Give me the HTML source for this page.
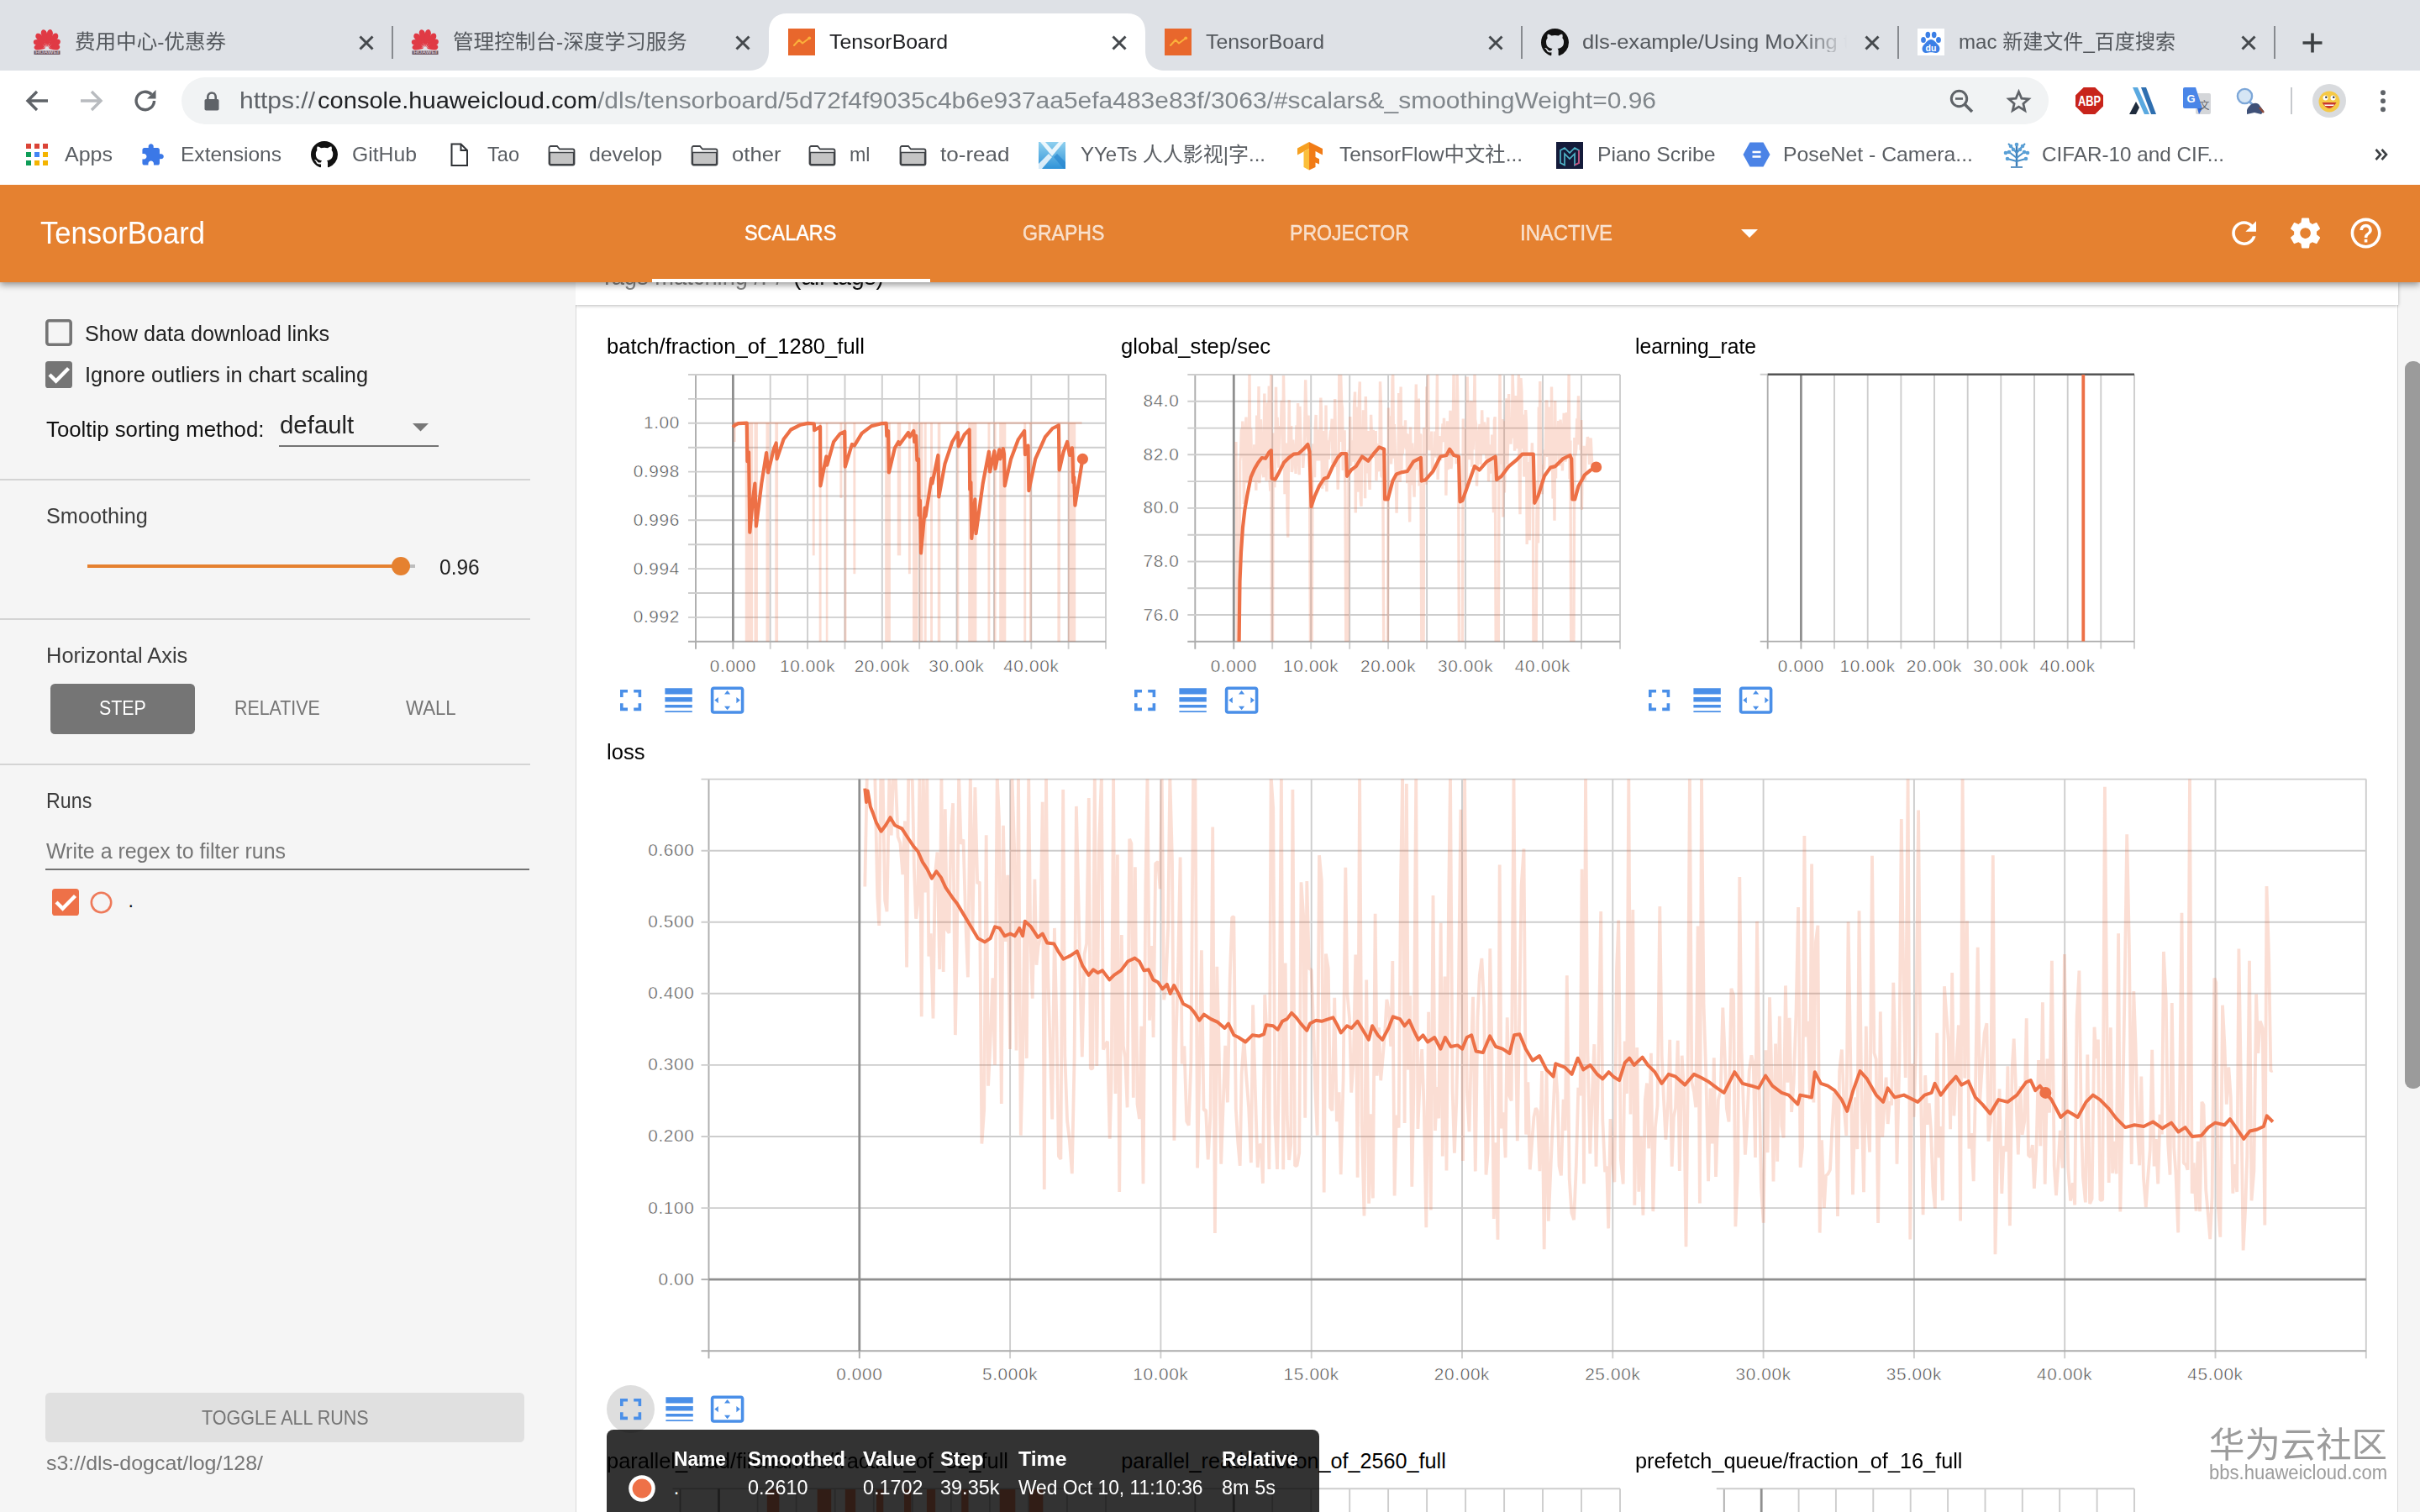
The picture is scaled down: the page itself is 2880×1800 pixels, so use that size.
<!DOCTYPE html>
<html lang="en"><head><meta charset="utf-8"><title>TensorBoard</title><style>
html,body{margin:0;padding:0;}
body{width:2880px;height:1800px;overflow:hidden;position:relative;background:#fff;font-family:"Liberation Sans","Noto Sans CJK SC",sans-serif;}
.b{position:absolute;display:block;}
.t{position:absolute;white-space:nowrap;line-height:1;display:block;transform-origin:0 0;}
svg{overflow:visible;}
</style></head>
<body>
<div class="b" style="left:684.5px;top:336.0px;width:2195.5px;height:1464.0px;background:#f5f5f5;"></div>
<div class="b" style="left:684.5px;top:362.0px;width:2169.5px;height:1440.0px;background:#fff;box-sizing:border-box;border:1.9px solid #dadada;"></div>
<div class="b" style="left:684.5px;top:336.0px;width:2169.5px;height:26.5px;background:#fff;box-shadow:0 1px 4px rgba(0,0,0,.28);"></div>
<span class="t" id="tg1" style="left:714.0px;top:315.4px;font-size:28.8px;color:#8a8a8a;transform:scaleX(0.9481);">Tags matching /.*/</span>
<span class="t" id="tg2" style="left:943.5px;top:315.4px;font-size:28.8px;color:#111;transform:scaleX(0.9781);">(all tags)</span>
<span class="t" id="ct1" style="left:722.3px;top:400.3px;font-size:25.2px;color:#000;transform:scaleX(1.0149);">batch/fraction_of_1280_full</span>
<span class="t" id="ct2" style="left:1334.3px;top:400.3px;font-size:25.2px;color:#000;transform:scaleX(1.0169);">global_step/sec</span>
<span class="t" id="ct3" style="left:1946.0px;top:400.3px;font-size:25.2px;color:#000;transform:scaleX(0.9794);">learning_rate</span>
<span class="t" id="ct4" style="left:722.3px;top:882.7px;font-size:25.2px;color:#000;transform:scaleX(1.0157);">loss</span>
<span class="t" id="ct5" style="left:722.3px;top:1727.0px;font-size:25.2px;color:#000;transform:scaleX(1.0100);">parallel_read/filenames/fraction_of_32_full</span>
<span class="t" id="ct6" style="left:1334.3px;top:1727.0px;font-size:25.2px;color:#000;">parallel_read/fraction_of_2560_full</span>
<span class="t" id="ct7" style="left:1946.0px;top:1727.0px;font-size:25.2px;color:#000;transform:scaleX(1.0041);">prefetch_queue/fraction_of_16_full</span>
<svg class="b" style="left:0;top:0" width="2880" height="1800" viewBox="0 0 2880 1800"><path d="M828.0 446.0 V772.8" stroke="#adadad" stroke-width="1.9"/><path d="M916.7 446.0 V772.8" stroke="#cdcdcd" stroke-width="1.9"/><path d="M961.1 446.0 V772.8" stroke="#cdcdcd" stroke-width="1.9"/><path d="M1005.5 446.0 V772.8" stroke="#cdcdcd" stroke-width="1.9"/><path d="M1049.8 446.0 V772.8" stroke="#cdcdcd" stroke-width="1.9"/><path d="M1094.2 446.0 V772.8" stroke="#cdcdcd" stroke-width="1.9"/><path d="M1138.5 446.0 V772.8" stroke="#cdcdcd" stroke-width="1.9"/><path d="M1182.9 446.0 V772.8" stroke="#cdcdcd" stroke-width="1.9"/><path d="M1227.3 446.0 V772.8" stroke="#cdcdcd" stroke-width="1.9"/><path d="M1271.6 446.0 V772.8" stroke="#cdcdcd" stroke-width="1.9"/><path d="M1316.0 446.0 V772.8" stroke="#cdcdcd" stroke-width="1.9"/><path d="M819.0 446.0 H1316.0" stroke="#cdcdcd" stroke-width="1.9"/><path d="M819.0 474.9 H1316.0" stroke="#cdcdcd" stroke-width="1.9"/><path d="M819.0 503.8 H1316.0" stroke="#cdcdcd" stroke-width="1.9"/><path d="M819.0 532.7 H1316.0" stroke="#cdcdcd" stroke-width="1.9"/><path d="M819.0 561.6 H1316.0" stroke="#cdcdcd" stroke-width="1.9"/><path d="M819.0 590.5 H1316.0" stroke="#cdcdcd" stroke-width="1.9"/><path d="M819.0 619.3 H1316.0" stroke="#cdcdcd" stroke-width="1.9"/><path d="M819.0 648.2 H1316.0" stroke="#cdcdcd" stroke-width="1.9"/><path d="M819.0 677.1 H1316.0" stroke="#cdcdcd" stroke-width="1.9"/><path d="M819.0 706.0 H1316.0" stroke="#cdcdcd" stroke-width="1.9"/><path d="M819.0 734.9 H1316.0" stroke="#cdcdcd" stroke-width="1.9"/><path d="M819.0 763.8 H1316.0" stroke="#adadad" stroke-width="1.9"/><path d="M872.4 446.0 V763.8" stroke="#8f8f8f" stroke-width="2.8"/><path d="M872.4 763.8 v9" stroke="#adadad" stroke-width="1.9"/><rect x="886.8" y="503.6" width="9.3" height="260.2" fill="#ee6a3c" fill-opacity="0.22"/><rect x="897.5" y="503.6" width="4.4" height="260.2" fill="#ee6a3c" fill-opacity="0.22"/><rect x="911.5" y="503.6" width="4.1" height="260.2" fill="#ee6a3c" fill-opacity="0.22"/><rect x="922.3" y="503.6" width="3.8" height="260.2" fill="#ee6a3c" fill-opacity="0.22"/><rect x="974.7" y="503.6" width="2.9" height="260.2" fill="#ee6a3c" fill-opacity="0.22"/><rect x="982.8" y="503.6" width="2.6" height="260.2" fill="#ee6a3c" fill-opacity="0.22"/><rect x="1004.6" y="503.6" width="2.9" height="260.2" fill="#ee6a3c" fill-opacity="0.22"/><rect x="1053.2" y="503.6" width="6.7" height="260.2" fill="#ee6a3c" fill-opacity="0.22"/><rect x="1086.1" y="503.6" width="6.4" height="260.2" fill="#ee6a3c" fill-opacity="0.22"/><rect x="1093.7" y="503.6" width="4.7" height="260.2" fill="#ee6a3c" fill-opacity="0.22"/><rect x="1099.8" y="503.6" width="2.9" height="260.2" fill="#ee6a3c" fill-opacity="0.22"/><rect x="1107.1" y="503.6" width="2.9" height="260.2" fill="#ee6a3c" fill-opacity="0.22"/><rect x="1115.8" y="503.6" width="3.5" height="260.2" fill="#ee6a3c" fill-opacity="0.22"/><rect x="1138.5" y="503.6" width="2.9" height="260.2" fill="#ee6a3c" fill-opacity="0.22"/><rect x="1152.2" y="503.6" width="10.2" height="260.2" fill="#ee6a3c" fill-opacity="0.22"/><rect x="1175.5" y="503.6" width="2.9" height="260.2" fill="#ee6a3c" fill-opacity="0.22"/><rect x="1182.7" y="503.6" width="2.9" height="260.2" fill="#ee6a3c" fill-opacity="0.22"/><rect x="1189.2" y="503.6" width="8.1" height="260.2" fill="#ee6a3c" fill-opacity="0.22"/><rect x="1218.3" y="503.6" width="2.9" height="260.2" fill="#ee6a3c" fill-opacity="0.22"/><rect x="1224.9" y="503.6" width="2.9" height="260.2" fill="#ee6a3c" fill-opacity="0.22"/><rect x="1258.4" y="503.6" width="3.5" height="260.2" fill="#ee6a3c" fill-opacity="0.22"/><rect x="1270.9" y="503.6" width="9.3" height="260.2" fill="#ee6a3c" fill-opacity="0.22"/><rect x="966.8" y="503.6" width="2.9" height="157.7" fill="#ee6a3c" fill-opacity="0.22"/><rect x="999.4" y="503.6" width="2.9" height="89.3" fill="#ee6a3c" fill-opacity="0.22"/><rect x="1015.4" y="503.6" width="2.9" height="179.6" fill="#ee6a3c" fill-opacity="0.22"/><rect x="1067.8" y="503.6" width="4.4" height="157.7" fill="#ee6a3c" fill-opacity="0.22"/><rect x="1080.9" y="503.6" width="2.9" height="179.6" fill="#ee6a3c" fill-opacity="0.22"/><rect x="872.8" y="503.6" width="2.9" height="22.4" fill="#ee6a3c" fill-opacity="0.22"/><path d="M872.2 503.6 H1287.5" stroke="#ee6a3c" stroke-opacity="0.22" stroke-width="3"/><path d="M872.2 508.6 L874.2 506.3 L878.6 504.2 L888.8 503.6 L889.4 549.3 L891.1 538.3 L892.3 633.7 L896.1 593.0 L898.4 575.5 L899.9 626.4 L906.3 575.5 L912.1 539.1 L914.1 562.4 L920.8 534.8 L923.7 527.5 L924.6 546.4 L932.5 523.1 L941.2 511.5 L952.8 505.7 L961.6 503.9 L968.8 504.5 L969.1 512.1 L976.1 508.0 L976.4 578.4 L983.4 543.5 L984.3 553.7 L992.1 526.0 L999.4 516.7 L1005.2 513.8 L1005.8 555.7 L1013.9 529.0 L1016.9 530.4 L1025.6 515.9 L1037.2 507.1 L1048.9 504.2 L1054.7 503.9 L1055.3 518.8 L1057.0 512.9 L1057.9 562.4 L1064.9 533.3 L1069.2 526.0 L1070.7 529.0 L1080.9 515.0 L1082.6 520.2 L1087.3 512.9 L1088.2 526.0 L1090.2 518.8 L1091.4 547.9 L1093.1 546.4 L1093.7 613.4 L1094.9 595.9 L1096.0 658.5 L1099.8 616.3 L1100.7 604.6 L1101.5 614.8 L1108.5 569.7 L1109.4 575.5 L1116.4 542.0 L1117.3 591.5 L1124.5 552.2 L1133.3 526.0 L1140.0 515.0 L1140.8 531.3 L1147.8 517.3 L1153.6 511.5 L1154.2 582.8 L1155.4 574.1 L1156.3 641.0 L1160.3 594.4 L1161.5 635.2 L1169.7 575.5 L1176.9 537.7 L1178.1 561.5 L1183.3 537.1 L1184.5 558.1 L1189.2 535.4 L1190.3 546.4 L1193.8 534.2 L1195.0 540.6 L1195.8 578.4 L1203.1 546.4 L1211.9 523.1 L1219.1 512.9 L1220.0 541.2 L1223.5 530.4 L1224.4 584.2 L1232.2 546.4 L1243.9 520.2 L1252.6 510.0 L1259.9 506.3 L1260.7 559.5 L1265.7 537.7 L1270.1 526.0 L1273.0 542.0 L1275.9 533.3 L1276.5 543.5 L1277.3 574.1 L1278.2 568.2 L1279.4 601.7 L1288.4 546.4" fill="none" stroke="#ed7046" stroke-width="4.2" stroke-linejoin="round"/><circle cx="1288.4" cy="546.4" r="6.6" fill="#ed7046"/><text x="809.0" y="510.2" font-size="20.8" text-anchor="end" fill="#484848" stroke="#fff" stroke-width="0.5" letter-spacing="0.65" font-family="Liberation Sans, sans-serif">1.00</text><text x="809.0" y="568.0" font-size="20.8" text-anchor="end" fill="#484848" stroke="#fff" stroke-width="0.5" letter-spacing="0.65" font-family="Liberation Sans, sans-serif">0.998</text><text x="809.0" y="625.8" font-size="20.8" text-anchor="end" fill="#484848" stroke="#fff" stroke-width="0.5" letter-spacing="0.65" font-family="Liberation Sans, sans-serif">0.996</text><text x="809.0" y="683.6" font-size="20.8" text-anchor="end" fill="#484848" stroke="#fff" stroke-width="0.5" letter-spacing="0.65" font-family="Liberation Sans, sans-serif">0.994</text><text x="809.0" y="741.3" font-size="20.8" text-anchor="end" fill="#484848" stroke="#fff" stroke-width="0.5" letter-spacing="0.65" font-family="Liberation Sans, sans-serif">0.992</text><text x="872.4" y="799.6" font-size="20.8" text-anchor="middle" fill="#484848" stroke="#fff" stroke-width="0.5" letter-spacing="0.65" font-family="Liberation Sans, sans-serif">0.000</text><text x="961.1" y="799.6" font-size="20.8" text-anchor="middle" fill="#484848" stroke="#fff" stroke-width="0.5" letter-spacing="0.65" font-family="Liberation Sans, sans-serif">10.00k</text><text x="1049.8" y="799.6" font-size="20.8" text-anchor="middle" fill="#484848" stroke="#fff" stroke-width="0.5" letter-spacing="0.65" font-family="Liberation Sans, sans-serif">20.00k</text><text x="1138.5" y="799.6" font-size="20.8" text-anchor="middle" fill="#484848" stroke="#fff" stroke-width="0.5" letter-spacing="0.65" font-family="Liberation Sans, sans-serif">30.00k</text><text x="1227.3" y="799.6" font-size="20.8" text-anchor="middle" fill="#484848" stroke="#fff" stroke-width="0.5" letter-spacing="0.65" font-family="Liberation Sans, sans-serif">40.00k</text><path d="M1422.3 446.0 V772.8" stroke="#adadad" stroke-width="1.9"/><path d="M1514.2 446.0 V772.8" stroke="#cdcdcd" stroke-width="1.9"/><path d="M1560.2 446.0 V772.8" stroke="#cdcdcd" stroke-width="1.9"/><path d="M1606.2 446.0 V772.8" stroke="#cdcdcd" stroke-width="1.9"/><path d="M1652.1 446.0 V772.8" stroke="#cdcdcd" stroke-width="1.9"/><path d="M1698.1 446.0 V772.8" stroke="#cdcdcd" stroke-width="1.9"/><path d="M1744.1 446.0 V772.8" stroke="#cdcdcd" stroke-width="1.9"/><path d="M1790.1 446.0 V772.8" stroke="#cdcdcd" stroke-width="1.9"/><path d="M1836.0 446.0 V772.8" stroke="#cdcdcd" stroke-width="1.9"/><path d="M1882.0 446.0 V772.8" stroke="#cdcdcd" stroke-width="1.9"/><path d="M1928.0 446.0 V772.8" stroke="#cdcdcd" stroke-width="1.9"/><path d="M1413.3 446.0 H1928.0" stroke="#cdcdcd" stroke-width="1.9"/><path d="M1413.3 477.8 H1928.0" stroke="#cdcdcd" stroke-width="1.9"/><path d="M1413.3 509.6 H1928.0" stroke="#cdcdcd" stroke-width="1.9"/><path d="M1413.3 541.3 H1928.0" stroke="#cdcdcd" stroke-width="1.9"/><path d="M1413.3 573.1 H1928.0" stroke="#cdcdcd" stroke-width="1.9"/><path d="M1413.3 604.9 H1928.0" stroke="#cdcdcd" stroke-width="1.9"/><path d="M1413.3 636.7 H1928.0" stroke="#cdcdcd" stroke-width="1.9"/><path d="M1413.3 668.5 H1928.0" stroke="#cdcdcd" stroke-width="1.9"/><path d="M1413.3 700.2 H1928.0" stroke="#cdcdcd" stroke-width="1.9"/><path d="M1413.3 732.0 H1928.0" stroke="#cdcdcd" stroke-width="1.9"/><path d="M1413.3 763.8 H1928.0" stroke="#adadad" stroke-width="1.9"/><path d="M1468.3 446.0 V763.8" stroke="#8f8f8f" stroke-width="2.8"/><path d="M1468.3 763.8 v9" stroke="#adadad" stroke-width="1.9"/><clipPath id="c2clip"><rect x="1422.3" y="446.0" width="505.7" height="317.8"/></clipPath><path d="M1470.9 525.9 L1471.7 604.0 L1472.3 767.6 L1473.0 767.6 L1474.0 767.6 L1474.7 767.6 L1475.7 549.5 L1476.5 541.2 L1477.4 510.6 L1478.1 544.4 L1478.8 501.6 L1479.6 517.3 L1480.4 600.1 L1481.3 516.6 L1482.0 520.1 L1483.0 496.5 L1483.8 575.3 L1484.8 550.2 L1485.6 565.4 L1486.3 537.9 L1487.0 444.6 L1488.0 570.6 L1488.7 509.7 L1489.4 547.2 L1490.1 544.8 L1490.9 537.0 L1491.8 574.0 L1492.7 529.4 L1493.5 550.0 L1494.2 541.4 L1494.8 583.7 L1495.7 494.6 L1496.5 573.9 L1497.3 543.3 L1498.0 460.1 L1498.7 575.2 L1499.7 562.7 L1500.4 499.3 L1501.3 523.4 L1502.2 551.5 L1503.1 563.5 L1503.9 568.1 L1504.8 468.6 L1505.6 555.6 L1506.3 544.8 L1507.1 572.4 L1507.8 499.3 L1508.6 479.3 L1509.4 557.7 L1510.3 459.6 L1511.0 570.1 L1511.9 584.7 L1512.7 444.6 L1513.5 767.6 L1514.5 767.6 L1515.2 515.5 L1516.0 576.7 L1516.8 580.2 L1517.8 548.9 L1518.5 460.8 L1519.3 527.6 L1520.1 496.7 L1521.0 533.5 L1521.8 556.8 L1522.6 507.1 L1523.4 510.9 L1524.4 514.6 L1525.2 476.8 L1525.9 518.0 L1526.8 555.1 L1527.5 447.0 L1528.2 491.5 L1529.0 588.2 L1529.8 529.8 L1530.6 532.3 L1531.2 527.6 L1532.0 610.9 L1532.7 639.7 L1533.4 554.2 L1534.2 476.0 L1535.0 541.8 L1535.7 538.7 L1536.6 506.9 L1537.4 562.1 L1538.1 557.8 L1538.8 523.5 L1539.6 534.8 L1540.3 540.9 L1541.2 545.6 L1542.1 564.0 L1543.0 506.2 L1543.8 554.9 L1544.6 479.9 L1545.5 548.5 L1546.2 565.2 L1546.9 483.9 L1547.6 511.9 L1548.5 540.9 L1549.2 532.5 L1550.0 534.4 L1550.7 556.9 L1551.4 545.9 L1552.2 533.5 L1553.0 490.7 L1553.7 452.2 L1554.6 492.1 L1555.3 499.2 L1556.2 528.2 L1557.1 494.6 L1557.7 513.6 L1558.6 576.8 L1559.5 767.6 L1560.4 767.6 L1561.1 767.6 L1562.0 566.9 L1562.9 528.2 L1563.8 547.8 L1564.5 568.2 L1565.2 512.3 L1566.1 493.9 L1566.7 548.5 L1567.4 521.3 L1568.4 511.4 L1569.1 540.5 L1569.9 548.2 L1570.8 528.8 L1571.8 473.5 L1572.5 489.6 L1573.5 581.8 L1574.4 533.8 L1575.2 513.1 L1576.0 554.2 L1576.6 577.6 L1577.3 566.3 L1578.0 482.4 L1578.9 585.3 L1579.7 531.6 L1580.6 524.2 L1581.3 546.9 L1582.0 526.6 L1582.8 519.6 L1583.5 512.9 L1584.4 512.8 L1585.2 498.7 L1586.0 551.4 L1586.9 545.0 L1587.7 546.4 L1588.7 475.0 L1589.6 538.2 L1590.4 555.9 L1591.4 540.7 L1592.2 582.7 L1593.1 559.5 L1593.8 444.6 L1594.8 525.9 L1595.6 444.6 L1596.6 479.5 L1597.5 486.1 L1598.3 560.1 L1599.1 546.7 L1600.1 512.3 L1601.0 591.8 L1601.8 767.6 L1602.5 767.6 L1603.4 767.6 L1604.1 767.6 L1605.1 535.8 L1606.0 553.8 L1606.8 496.0 L1607.5 554.8 L1608.2 543.0 L1609.2 536.6 L1610.1 524.4 L1610.8 549.7 L1611.6 484.2 L1612.5 466.5 L1613.3 610.4 L1614.1 484.6 L1614.8 539.1 L1615.7 585.7 L1616.5 532.3 L1617.5 471.1 L1618.3 454.4 L1619.2 592.9 L1620.0 602.9 L1620.8 514.0 L1621.5 548.8 L1622.4 488.2 L1623.1 535.7 L1623.9 496.4 L1624.6 593.2 L1625.3 472.1 L1626.1 536.3 L1627.0 563.4 L1627.7 546.4 L1628.6 512.9 L1629.3 567.8 L1630.1 582.9 L1630.8 548.5 L1631.6 493.8 L1632.5 521.9 L1633.4 539.4 L1634.3 511.9 L1635.0 540.4 L1635.7 522.4 L1636.6 545.1 L1637.2 512.9 L1637.9 572.1 L1638.6 556.8 L1639.3 550.7 L1640.0 528.1 L1640.9 557.7 L1641.8 561.0 L1642.5 454.3 L1643.5 483.2 L1644.1 566.8 L1645.1 567.7 L1645.8 554.9 L1646.7 767.6 L1647.4 767.6 L1648.2 767.6 L1649.1 767.6 L1650.0 767.6 L1650.7 767.6 L1651.5 767.6 L1652.5 485.6 L1653.1 541.0 L1654.0 520.9 L1654.8 495.2 L1655.5 552.5 L1656.2 537.6 L1657.0 451.7 L1657.7 444.6 L1658.6 545.7 L1659.3 505.0 L1660.2 532.6 L1661.1 561.8 L1662.1 610.6 L1663.0 558.1 L1664.0 544.1 L1664.7 467.9 L1665.5 567.3 L1666.2 573.8 L1667.1 460.5 L1667.9 559.2 L1668.6 506.8 L1669.3 540.1 L1670.1 511.5 L1670.8 532.9 L1671.7 524.2 L1672.5 500.2 L1673.3 534.9 L1674.0 515.9 L1674.7 575.2 L1675.5 516.7 L1676.2 522.9 L1676.9 567.5 L1677.7 621.4 L1678.5 508.6 L1679.4 567.2 L1680.1 577.3 L1680.7 527.5 L1681.4 545.7 L1682.3 571.2 L1683.1 591.6 L1683.7 551.6 L1684.5 531.7 L1685.3 457.6 L1686.1 559.2 L1686.9 495.4 L1687.7 486.0 L1688.3 474.6 L1689.2 578.6 L1690.0 516.9 L1690.8 518.2 L1691.8 767.6 L1692.6 767.6 L1693.4 767.6 L1694.1 767.6 L1694.7 509.3 L1695.6 532.4 L1696.5 522.6 L1697.2 576.8 L1697.9 460.3 L1698.8 497.2 L1699.5 444.6 L1700.2 528.0 L1701.1 536.1 L1702.1 526.2 L1702.9 532.0 L1703.8 513.6 L1704.7 564.7 L1705.6 536.0 L1706.5 532.9 L1707.3 544.4 L1708.0 513.6 L1708.7 525.5 L1709.6 524.3 L1710.4 444.6 L1711.1 570.9 L1711.9 549.2 L1712.8 519.2 L1713.6 525.5 L1714.5 548.3 L1715.4 520.0 L1716.1 526.1 L1717.0 504.3 L1717.8 519.3 L1718.5 497.7 L1719.3 526.0 L1720.2 515.7 L1720.9 589.8 L1721.8 521.4 L1722.5 501.2 L1723.4 559.2 L1724.2 516.5 L1725.1 540.1 L1726.0 488.7 L1726.9 558.1 L1727.7 550.8 L1728.5 511.7 L1729.2 512.7 L1730.0 444.6 L1730.9 538.4 L1731.6 500.9 L1732.5 516.9 L1733.2 552.2 L1734.1 444.6 L1734.8 480.0 L1735.7 562.4 L1736.4 767.6 L1737.3 767.6 L1738.0 767.6 L1738.9 767.6 L1739.6 767.6 L1740.4 767.6 L1741.3 498.6 L1742.0 578.2 L1742.7 529.1 L1743.5 510.0 L1744.3 566.2 L1745.3 584.2 L1746.2 448.5 L1747.0 497.6 L1747.9 523.8 L1748.6 547.1 L1749.5 503.1 L1750.2 479.6 L1751.1 477.5 L1751.8 555.8 L1752.5 499.2 L1753.1 535.2 L1754.0 505.0 L1755.0 444.6 L1755.6 499.3 L1756.6 505.3 L1757.5 578.6 L1758.5 543.1 L1759.3 535.9 L1760.1 513.5 L1761.1 505.0 L1762.0 552.9 L1762.8 523.3 L1763.7 488.3 L1764.5 521.8 L1765.4 540.9 L1766.4 502.5 L1767.2 507.3 L1768.1 524.2 L1769.0 546.2 L1770.0 541.8 L1770.8 496.9 L1771.6 573.1 L1772.5 529.4 L1773.3 562.0 L1774.3 535.9 L1775.0 563.8 L1775.7 517.5 L1776.6 537.1 L1777.5 610.2 L1778.4 500.6 L1779.2 496.2 L1780.2 767.6 L1780.9 767.6 L1781.6 767.6 L1782.4 767.6 L1783.3 767.6 L1784.0 565.0 L1785.0 444.6 L1785.9 523.5 L1786.9 552.6 L1787.8 498.9 L1788.7 615.4 L1789.5 501.2 L1790.4 586.5 L1791.2 547.8 L1792.2 507.6 L1793.0 474.2 L1793.9 552.6 L1794.7 524.5 L1795.6 469.1 L1796.3 502.1 L1797.3 500.5 L1798.0 528.8 L1798.8 506.2 L1799.4 521.7 L1800.1 444.6 L1800.9 470.1 L1801.9 495.8 L1802.6 536.6 L1803.6 519.4 L1804.2 470.9 L1805.0 533.9 L1805.7 512.5 L1806.6 487.1 L1807.4 444.6 L1808.1 555.0 L1809.0 612.3 L1809.9 450.0 L1810.9 465.9 L1811.7 534.0 L1812.4 519.6 L1813.1 493.4 L1813.8 567.6 L1814.8 523.5 L1815.7 488.0 L1816.5 504.4 L1817.2 648.1 L1818.0 569.5 L1818.7 579.8 L1819.5 550.0 L1820.2 643.3 L1821.1 541.3 L1821.8 565.5 L1822.8 545.1 L1823.4 527.3 L1824.4 585.8 L1825.0 767.6 L1825.7 767.6 L1826.4 767.6 L1827.3 767.6 L1828.1 767.6 L1828.9 618.0 L1829.7 572.9 L1830.5 646.6 L1831.3 484.6 L1832.0 547.0 L1832.8 454.0 L1833.7 566.8 L1834.4 565.0 L1835.3 588.1 L1836.1 555.5 L1836.8 553.6 L1837.5 558.6 L1838.4 535.2 L1839.2 538.5 L1840.2 478.1 L1840.9 476.6 L1841.7 543.9 L1842.4 520.7 L1843.2 484.4 L1844.2 560.0 L1844.9 517.5 L1845.9 560.1 L1846.5 460.5 L1847.3 525.3 L1848.1 593.6 L1849.1 546.4 L1850.0 619.7 L1850.7 477.0 L1851.5 569.4 L1852.3 514.8 L1853.1 524.5 L1853.9 521.5 L1854.7 501.0 L1855.5 545.3 L1856.3 554.7 L1857.0 499.6 L1857.8 508.5 L1858.6 512.0 L1859.4 560.4 L1860.2 535.3 L1861.2 491.8 L1862.0 534.4 L1862.9 549.4 L1863.6 546.5 L1864.5 491.1 L1865.4 495.5 L1866.2 543.3 L1867.1 444.6 L1868.0 570.2 L1868.9 524.5 L1869.7 767.6 L1870.5 767.6 L1871.4 767.6 L1872.2 767.6 L1872.9 767.6 L1873.8 520.9 L1874.8 542.4 L1875.8 533.9 L1876.7 498.4 L1877.5 529.5 L1878.5 471.3 L1879.3 501.5 L1880.3 502.1 L1881.1 535.9 L1881.8 499.9 L1882.4 606.7 L1883.4 538.4 L1884.1 539.1 L1885.0 530.8 L1885.6 556.8 L1886.3 572.2 L1887.0 540.9 L1887.8 540.2 L1888.5 532.3 L1889.4 520.0 L1890.2 524.7 L1890.8 527.5 L1891.6 553.0 L1892.4 531.5 L1893.2 521.5 L1894.1 541.8 L1895.0 555.4 L1896.0 551.4 L1896.9 562.3" fill="none" stroke="#ee6a3c" stroke-opacity="0.22" stroke-width="3.4" stroke-linejoin="bevel" clip-path="url(#c2clip)"/><path d="M1474.6 763.8 L1475.5 691.9 L1477.0 657.0 L1479.0 627.9 L1481.3 607.5 L1484.2 590.1 L1488.6 568.2 L1493.0 558.1 L1497.3 550.8 L1501.7 545.0 L1506.1 545.8 L1510.4 538.3 L1512.8 536.2 L1513.6 569.7 L1517.7 570.6 L1522.1 562.4 L1527.9 550.8 L1533.7 545.0 L1539.5 540.6 L1545.4 540.0 L1551.2 534.8 L1556.4 529.0 L1558.5 537.7 L1560.5 603.2 L1564.3 591.5 L1570.1 578.4 L1575.9 569.7 L1580.3 568.2 L1586.1 555.1 L1591.9 545.0 L1596.3 540.0 L1602.1 540.0 L1603.0 566.8 L1607.9 559.5 L1613.8 555.1 L1621.0 543.5 L1628.3 548.7 L1635.6 539.1 L1641.4 532.4 L1647.2 534.8 L1648.1 594.4 L1651.6 594.4 L1657.4 572.6 L1661.8 564.5 L1667.6 562.4 L1674.9 561.0 L1682.2 549.3 L1690.9 545.0 L1691.8 572.6 L1696.7 571.2 L1705.4 561.0 L1714.2 543.5 L1721.4 542.0 L1725.2 534.8 L1730.2 542.0 L1736.0 543.5 L1737.5 597.3 L1740.4 595.9 L1747.6 575.5 L1754.9 555.1 L1760.7 559.5 L1769.5 549.3 L1779.7 543.5 L1781.1 571.2 L1786.9 566.8 L1795.7 555.1 L1804.4 547.9 L1811.7 540.6 L1824.8 540.6 L1826.2 598.8 L1830.6 590.1 L1837.9 566.8 L1845.1 556.6 L1851.0 555.1 L1859.7 546.4 L1868.4 542.0 L1870.2 546.4 L1871.3 594.4 L1874.2 594.4 L1878.6 578.4 L1885.9 565.3 L1893.2 559.5 L1899.6 556.0" fill="none" stroke="#ed7046" stroke-width="4.2" stroke-linejoin="round"/><circle cx="1899.6" cy="556.0" r="6.6" fill="#ed7046"/><text x="1403.5" y="484.2" font-size="20.8" text-anchor="end" fill="#484848" stroke="#fff" stroke-width="0.5" letter-spacing="0.65" font-family="Liberation Sans, sans-serif">84.0</text><text x="1403.5" y="547.8" font-size="20.8" text-anchor="end" fill="#484848" stroke="#fff" stroke-width="0.5" letter-spacing="0.65" font-family="Liberation Sans, sans-serif">82.0</text><text x="1403.5" y="611.3" font-size="20.8" text-anchor="end" fill="#484848" stroke="#fff" stroke-width="0.5" letter-spacing="0.65" font-family="Liberation Sans, sans-serif">80.0</text><text x="1403.5" y="674.9" font-size="20.8" text-anchor="end" fill="#484848" stroke="#fff" stroke-width="0.5" letter-spacing="0.65" font-family="Liberation Sans, sans-serif">78.0</text><text x="1403.5" y="738.5" font-size="20.8" text-anchor="end" fill="#484848" stroke="#fff" stroke-width="0.5" letter-spacing="0.65" font-family="Liberation Sans, sans-serif">76.0</text><text x="1468.3" y="799.6" font-size="20.8" text-anchor="middle" fill="#484848" stroke="#fff" stroke-width="0.5" letter-spacing="0.65" font-family="Liberation Sans, sans-serif">0.000</text><text x="1560.2" y="799.6" font-size="20.8" text-anchor="middle" fill="#484848" stroke="#fff" stroke-width="0.5" letter-spacing="0.65" font-family="Liberation Sans, sans-serif">10.00k</text><text x="1652.1" y="799.6" font-size="20.8" text-anchor="middle" fill="#484848" stroke="#fff" stroke-width="0.5" letter-spacing="0.65" font-family="Liberation Sans, sans-serif">20.00k</text><text x="1744.1" y="799.6" font-size="20.8" text-anchor="middle" fill="#484848" stroke="#fff" stroke-width="0.5" letter-spacing="0.65" font-family="Liberation Sans, sans-serif">30.00k</text><text x="1836.0" y="799.6" font-size="20.8" text-anchor="middle" fill="#484848" stroke="#fff" stroke-width="0.5" letter-spacing="0.65" font-family="Liberation Sans, sans-serif">40.00k</text><path d="M2103.7 445.8 V772.6" stroke="#adadad" stroke-width="1.9"/><path d="M2183.0 445.8 V772.6" stroke="#cdcdcd" stroke-width="1.9"/><path d="M2222.7 445.8 V772.6" stroke="#cdcdcd" stroke-width="1.9"/><path d="M2262.4 445.8 V772.6" stroke="#cdcdcd" stroke-width="1.9"/><path d="M2302.0 445.8 V772.6" stroke="#cdcdcd" stroke-width="1.9"/><path d="M2341.7 445.8 V772.6" stroke="#cdcdcd" stroke-width="1.9"/><path d="M2381.3 445.8 V772.6" stroke="#cdcdcd" stroke-width="1.9"/><path d="M2421.0 445.8 V772.6" stroke="#cdcdcd" stroke-width="1.9"/><path d="M2460.7 445.8 V772.6" stroke="#cdcdcd" stroke-width="1.9"/><path d="M2500.3 445.8 V772.6" stroke="#cdcdcd" stroke-width="1.9"/><path d="M2540.0 445.8 V772.6" stroke="#cdcdcd" stroke-width="1.9"/><path d="M2094.7 445.8 H2540.0" stroke="#cdcdcd" stroke-width="1.9"/><path d="M2094.7 763.6 H2540.0" stroke="#adadad" stroke-width="1.9"/><path d="M2143.4 445.8 V763.6" stroke="#8f8f8f" stroke-width="2.8"/><path d="M2143.4 763.6 v9" stroke="#adadad" stroke-width="1.9"/><path d="M2103.7 445.8 H2540.0" stroke="#555" stroke-width="2.6"/><path d="M2479.3 446 V763.6" stroke="#ed7046" stroke-width="3.8"/><text x="2143.4" y="799.6" font-size="20.8" text-anchor="middle" fill="#484848" stroke="#fff" stroke-width="0.5" letter-spacing="0.65" font-family="Liberation Sans, sans-serif">0.000</text><text x="2222.7" y="799.6" font-size="20.8" text-anchor="middle" fill="#484848" stroke="#fff" stroke-width="0.5" letter-spacing="0.65" font-family="Liberation Sans, sans-serif">10.00k</text><text x="2302.0" y="799.6" font-size="20.8" text-anchor="middle" fill="#484848" stroke="#fff" stroke-width="0.5" letter-spacing="0.65" font-family="Liberation Sans, sans-serif">20.00k</text><text x="2381.3" y="799.6" font-size="20.8" text-anchor="middle" fill="#484848" stroke="#fff" stroke-width="0.5" letter-spacing="0.65" font-family="Liberation Sans, sans-serif">30.00k</text><text x="2460.7" y="799.6" font-size="20.8" text-anchor="middle" fill="#484848" stroke="#fff" stroke-width="0.5" letter-spacing="0.65" font-family="Liberation Sans, sans-serif">40.00k</text><path d="M843.5 927.6 V1617.2" stroke="#adadad" stroke-width="1.9"/><path d="M1202.1 927.6 V1617.2" stroke="#cdcdcd" stroke-width="1.9"/><path d="M1381.4 927.6 V1617.2" stroke="#cdcdcd" stroke-width="1.9"/><path d="M1560.7 927.6 V1617.2" stroke="#cdcdcd" stroke-width="1.9"/><path d="M1740.0 927.6 V1617.2" stroke="#cdcdcd" stroke-width="1.9"/><path d="M1919.3 927.6 V1617.2" stroke="#cdcdcd" stroke-width="1.9"/><path d="M2098.6 927.6 V1617.2" stroke="#cdcdcd" stroke-width="1.9"/><path d="M2277.9 927.6 V1617.2" stroke="#cdcdcd" stroke-width="1.9"/><path d="M2457.2 927.6 V1617.2" stroke="#cdcdcd" stroke-width="1.9"/><path d="M2636.5 927.6 V1617.2" stroke="#cdcdcd" stroke-width="1.9"/><path d="M2815.8 927.6 V1617.2" stroke="#cdcdcd" stroke-width="1.9"/><path d="M834.5 927.6 H2815.8" stroke="#cdcdcd" stroke-width="1.9"/><path d="M834.5 1012.7 H2815.8" stroke="#cdcdcd" stroke-width="1.9"/><path d="M834.5 1097.8 H2815.8" stroke="#cdcdcd" stroke-width="1.9"/><path d="M834.5 1182.8 H2815.8" stroke="#cdcdcd" stroke-width="1.9"/><path d="M834.5 1267.9 H2815.8" stroke="#cdcdcd" stroke-width="1.9"/><path d="M834.5 1353.0 H2815.8" stroke="#cdcdcd" stroke-width="1.9"/><path d="M834.5 1438.1 H2815.8" stroke="#cdcdcd" stroke-width="1.9"/><path d="M834.5 1608.2 H2815.8" stroke="#adadad" stroke-width="1.9"/><path d="M1022.8 927.6 V1608.2" stroke="#8f8f8f" stroke-width="2.8"/><path d="M1022.8 1608.2 v9" stroke="#adadad" stroke-width="1.9"/><path d="M843.5 1523.2 H2815.8" stroke="#8f8f8f" stroke-width="2.8"/><path d="M834.5 1523.2 h9" stroke="#adadad" stroke-width="1.9"/><clipPath id="lclip"><rect x="843.5" y="927.6" width="1972.3" height="680.6"/></clipPath><path d="M1029.3 1055.5 L1031.8 923.4 L1034.3 923.4 L1037.0 923.4 L1039.3 923.4 L1041.3 923.4 L1044.2 1067.0 L1046.2 1101.9 L1048.3 923.4 L1050.6 923.4 L1053.1 1071.5 L1055.5 1085.2 L1058.4 923.4 L1060.7 994.4 L1063.0 923.4 L1065.7 923.4 L1068.6 996.3 L1071.4 1003.8 L1074.3 1041.1 L1077.0 977.4 L1079.1 1151.4 L1081.2 923.4 L1083.3 923.4 L1085.8 929.4 L1087.9 1033.8 L1090.1 1093.7 L1092.2 1073.9 L1094.5 923.4 L1096.7 1210.3 L1098.8 923.4 L1101.0 1062.4 L1103.3 923.4 L1105.3 1138.5 L1107.7 1111.2 L1110.5 1212.5 L1112.7 1042.7 L1115.5 1014.5 L1118.2 1153.9 L1120.4 923.4 L1122.7 1156.9 L1124.8 963.2 L1127.0 1106.9 L1129.5 1110.6 L1131.6 995.0 L1134.1 956.2 L1136.9 1232.1 L1138.9 1120.1 L1141.1 923.4 L1143.6 1004.8 L1146.5 999.5 L1149.1 1093.6 L1151.9 1163.3 L1154.8 923.4 L1157.5 1106.1 L1160.4 937.2 L1163.2 1051.9 L1165.8 1049.7 L1168.4 1361.6 L1171.2 1320.8 L1173.7 994.3 L1176.1 1292.7 L1178.6 1240.1 L1181.4 1164.4 L1184.0 1267.8 L1186.7 923.4 L1189.1 977.6 L1191.8 1314.0 L1194.0 982.7 L1196.6 1120.9 L1199.2 1041.7 L1202.0 1249.0 L1204.4 923.4 L1207.2 1011.6 L1209.5 1250.5 L1212.0 926.7 L1214.8 1351.6 L1217.0 1267.1 L1219.3 1098.1 L1221.8 1259.9 L1224.2 923.4 L1226.2 1110.5 L1228.7 1188.7 L1231.4 1046.7 L1233.5 1148.8 L1235.7 1126.2 L1238.1 1116.0 L1240.7 954.7 L1242.8 1416.1 L1245.0 923.4 L1247.2 1158.7 L1249.5 1238.7 L1252.2 1332.5 L1254.9 1104.9 L1257.5 1222.3 L1259.9 1376.4 L1262.4 1379.9 L1265.2 940.0 L1267.3 1256.8 L1270.1 1334.2 L1272.9 1358.0 L1275.8 1397.1 L1278.6 1258.7 L1280.9 959.9 L1283.6 1077.6 L1285.6 1172.7 L1287.8 1258.1 L1290.5 1136.1 L1293.1 1123.3 L1295.8 950.1 L1297.8 1272.3 L1300.3 1272.2 L1302.8 923.4 L1305.3 1269.0 L1308.1 1003.5 L1310.9 923.4 L1313.0 1249.4 L1315.5 1243.7 L1318.0 1239.7 L1320.7 1355.7 L1322.7 1284.1 L1325.1 923.4 L1327.5 1302.0 L1329.9 1017.4 L1332.2 1419.1 L1334.8 1113.1 L1336.8 1245.3 L1339.0 1258.6 L1341.6 1318.4 L1344.2 998.7 L1346.4 1004.2 L1348.8 1306.8 L1350.9 1032.2 L1353.5 1314.5 L1356.0 1331.9 L1358.3 1221.7 L1360.5 1409.2 L1363.4 1054.3 L1365.5 923.4 L1368.1 1214.8 L1370.5 1126.0 L1372.6 1235.0 L1375.2 1028.1 L1378.1 1025.9 L1380.6 1058.2 L1382.7 923.4 L1385.2 1190.2 L1387.3 1175.4 L1390.2 1103.1 L1392.3 923.4 L1395.0 1025.1 L1397.4 1357.7 L1399.4 1243.8 L1402.2 1145.9 L1404.6 1020.6 L1406.7 1266.5 L1409.4 1245.4 L1412.2 1334.8 L1414.7 1339.7 L1417.4 1264.5 L1420.1 923.4 L1422.4 923.4 L1425.1 1390.5 L1427.5 1268.8 L1429.9 1131.4 L1432.5 1321.5 L1435.1 1321.5 L1437.7 1380.4 L1440.6 1325.1 L1443.2 984.4 L1445.9 1468.1 L1448.3 1150.7 L1450.3 1230.3 L1453.2 1385.8 L1455.7 1314.0 L1458.2 1244.9 L1460.9 1312.4 L1463.8 1162.3 L1466.2 1092.1 L1468.3 1091.1 L1470.8 1319.8 L1473.1 1358.3 L1475.7 1387.8 L1477.7 1277.7 L1480.4 1236.8 L1483.2 1281.1 L1486.1 1318.5 L1488.9 1384.2 L1491.1 1196.4 L1493.9 1300.2 L1496.7 1389.8 L1498.8 1363.4 L1500.8 1362.3 L1502.9 1408.8 L1505.2 1184.2 L1507.5 1231.1 L1510.4 1392.0 L1512.6 923.4 L1515.2 962.4 L1517.4 1330.6 L1520.0 1391.9 L1522.2 1263.9 L1524.9 923.4 L1527.2 1392.2 L1529.7 1146.5 L1531.8 1329.9 L1534.1 1381.0 L1536.3 1361.5 L1538.4 939.9 L1541.1 1387.9 L1543.5 1387.6 L1546.2 1372.4 L1548.5 1050.3 L1551.2 1090.3 L1553.2 1330.7 L1555.3 1049.0 L1557.9 1153.0 L1560.6 1154.7 L1562.7 1209.9 L1565.4 1298.2 L1567.7 1351.6 L1570.0 1018.3 L1572.8 1048.2 L1575.7 1419.6 L1577.9 1135.5 L1580.8 1153.1 L1583.1 1318.3 L1585.5 1322.1 L1588.2 1187.9 L1590.9 1335.1 L1593.7 1300.3 L1595.7 1398.3 L1598.6 1286.3 L1601.3 1032.7 L1603.4 1183.4 L1606.1 1212.8 L1608.2 1300.7 L1610.8 1262.2 L1613.3 1136.5 L1615.6 1401.7 L1618.1 923.4 L1620.7 1338.3 L1623.5 1447.5 L1626.2 1166.5 L1629.1 1432.7 L1631.6 1326.2 L1633.9 1426.4 L1636.6 1087.7 L1638.8 1280.7 L1641.0 1223.2 L1643.2 1286.3 L1645.9 1256.1 L1648.4 1224.4 L1650.4 1189.9 L1652.6 1202.0 L1655.2 1245.7 L1657.3 1144.0 L1659.6 1423.5 L1661.8 1327.5 L1664.6 1342.6 L1667.1 1047.1 L1669.1 923.4 L1671.6 1336.9 L1673.9 932.9 L1675.9 1273.6 L1678.2 1185.2 L1680.3 1412.8 L1682.6 1286.3 L1685.2 923.4 L1687.4 1343.9 L1689.4 1294.3 L1692.2 1249.1 L1694.8 1322.8 L1697.3 1461.2 L1700.1 1204.8 L1702.8 1440.6 L1705.5 1066.0 L1708.0 1345.9 L1710.3 1294.2 L1712.3 1331.4 L1714.7 1098.7 L1716.8 1376.4 L1719.5 1162.5 L1721.5 1393.4 L1724.0 1078.6 L1726.0 923.4 L1728.6 1298.1 L1730.9 1372.6 L1733.3 1311.3 L1735.5 1208.3 L1738.4 963.8 L1741.0 1381.9 L1743.1 923.4 L1745.8 1298.3 L1748.5 1347.1 L1750.6 1262.5 L1753.0 1186.8 L1755.8 1394.4 L1758.5 1211.1 L1760.8 1161.3 L1763.4 1140.9 L1766.2 1198.7 L1768.5 1398.6 L1770.6 1373.2 L1773.3 1129.3 L1775.4 1246.5 L1777.8 1451.0 L1779.9 1360.3 L1782.5 1475.7 L1784.7 1029.4 L1786.8 1343.2 L1789.3 1324.4 L1791.6 1378.2 L1793.7 1211.3 L1796.2 1304.3 L1798.7 1310.4 L1801.5 923.4 L1803.6 1216.4 L1805.8 1358.2 L1808.5 1193.6 L1810.6 1053.9 L1813.5 1010.5 L1816.1 1350.6 L1818.4 1288.3 L1820.8 1392.3 L1823.2 1359.5 L1825.4 1329.9 L1827.7 1319.1 L1829.8 1322.7 L1832.4 1394.3 L1835.0 1275.0 L1837.7 1487.3 L1840.5 1272.4 L1842.8 1453.7 L1845.3 1394.9 L1848.1 1332.4 L1850.9 1265.4 L1853.5 1303.1 L1855.5 1387.8 L1857.9 1399.4 L1860.6 1308.8 L1862.8 1345.8 L1864.8 1161.2 L1867.7 1403.5 L1870.4 1444.0 L1873.1 1452.1 L1875.8 1388.3 L1878.3 1294.9 L1880.6 1304.3 L1882.6 1034.7 L1885.0 1409.3 L1887.0 923.4 L1889.4 1250.0 L1892.3 1373.4 L1895.2 1293.5 L1897.3 1243.2 L1899.5 1388.6 L1902.4 1260.5 L1905.2 1085.0 L1907.3 1333.5 L1910.1 1395.2 L1912.2 1388.6 L1914.2 1462.4 L1916.5 1332.0 L1918.7 1378.3 L1921.4 1407.3 L1924.0 1153.7 L1926.2 1095.6 L1928.8 1379.8 L1931.7 1409.6 L1933.7 1239.6 L1936.0 1301.9 L1938.3 923.4 L1940.5 1326.6 L1943.3 1082.9 L1945.3 1434.8 L1948.2 1247.0 L1950.3 1418.7 L1952.9 1352.9 L1955.4 1446.8 L1957.8 1309.4 L1960.0 1289.5 L1962.2 1367.1 L1964.9 1253.8 L1967.3 1442.1 L1969.9 1342.1 L1972.5 1316.3 L1975.3 1079.1 L1977.7 1256.3 L1979.9 1307.5 L1982.4 1356.6 L1985.2 1310.2 L1987.2 1237.9 L1989.7 1388.6 L1991.8 1330.1 L1994.0 1318.8 L1996.7 1238.8 L1998.8 1394.0 L2001.7 1256.7 L2004.1 1300.0 L2006.5 1484.3 L2008.5 1307.3 L2010.9 923.4 L2013.3 1288.2 L2016.0 1299.7 L2018.2 1318.2 L2020.6 1102.4 L2022.9 1432.6 L2025.0 923.4 L2027.5 1193.7 L2030.3 1279.3 L2033.1 1406.3 L2035.5 1295.5 L2037.7 1361.5 L2039.8 1259.3 L2042.0 1401.0 L2044.9 1309.5 L2047.7 1298.6 L2050.3 1199.6 L2052.5 1250.9 L2054.9 1319.6 L2057.5 1335.4 L2060.4 1176.9 L2063.1 1185.2 L2065.4 1460.2 L2068.2 1390.0 L2070.3 1043.9 L2072.5 1249.3 L2074.5 1307.1 L2076.9 1374.7 L2079.1 1340.7 L2081.7 1274.8 L2084.4 1256.4 L2086.7 1266.6 L2089.0 1378.0 L2091.0 1096.9 L2093.8 1301.8 L2096.0 1413.8 L2098.7 1455.6 L2101.5 1250.2 L2103.6 1372.1 L2106.0 1187.3 L2108.4 1280.3 L2110.5 1406.5 L2113.1 1242.6 L2115.2 1382.8 L2117.8 1209.8 L2120.3 1340.1 L2122.6 1354.4 L2124.9 1173.4 L2127.4 1288.8 L2129.6 1211.7 L2132.1 1323.9 L2134.7 1289.7 L2137.6 1201.7 L2140.1 1080.1 L2142.6 1389.7 L2145.0 1365.6 L2147.4 995.0 L2149.4 1234.3 L2151.7 1215.8 L2153.9 1309.0 L2156.1 1028.4 L2158.4 1312.6 L2160.9 1121.3 L2163.4 1101.7 L2165.7 1467.6 L2168.0 1357.4 L2170.9 1437.9 L2173.0 1399.6 L2175.4 1397.6 L2178.0 1392.5 L2180.3 1345.3 L2182.8 1301.0 L2184.9 1302.9 L2187.0 1448.0 L2189.1 1275.1 L2191.9 1249.5 L2194.6 1318.5 L2197.3 1351.9 L2199.6 1097.6 L2202.3 1264.8 L2205.0 1422.3 L2207.7 1306.3 L2210.3 1368.1 L2212.5 1084.3 L2215.3 1298.9 L2218.0 1419.1 L2220.8 1221.9 L2222.9 1333.2 L2225.1 1371.6 L2228.0 1018.8 L2230.4 1253.5 L2232.7 1260.9 L2235.1 1456.0 L2237.8 1204.4 L2240.2 1353.5 L2242.4 1315.6 L2244.6 1282.6 L2246.7 1338.0 L2248.8 1311.1 L2251.1 1315.7 L2253.3 1169.9 L2255.4 1253.0 L2257.5 1385.6 L2260.4 1262.9 L2262.8 975.1 L2265.2 1159.5 L2267.7 1283.0 L2270.6 923.4 L2273.3 1475.5 L2275.5 1266.4 L2277.6 1329.8 L2280.2 1242.8 L2283.1 964.4 L2285.8 1289.7 L2288.6 1446.1 L2291.2 1280.2 L2293.6 1338.9 L2295.8 1313.5 L2298.0 1345.4 L2300.4 1412.8 L2302.9 1438.4 L2305.2 1229.7 L2307.5 1378.2 L2309.7 1341.0 L2311.8 1429.1 L2314.0 1174.2 L2316.3 1207.6 L2318.8 1238.9 L2321.1 1344.3 L2323.2 1157.9 L2325.4 1328.3 L2328.0 1272.4 L2330.9 1220.4 L2333.1 1453.6 L2335.6 923.4 L2338.2 1283.6 L2341.0 1096.2 L2343.4 1367.5 L2346.1 1349.2 L2348.7 1406.1 L2351.2 1281.3 L2353.7 1127.7 L2356.2 1311.4 L2359.0 1266.5 L2361.7 1229.4 L2364.4 1218.2 L2366.5 1358.6 L2368.9 1334.5 L2371.8 1018.3 L2374.5 1493.2 L2377.3 1363.8 L2379.5 1296.2 L2382.3 1420.9 L2384.5 1364.6 L2387.2 1370.7 L2389.4 1269.3 L2391.9 1459.2 L2394.6 1272.4 L2396.7 1236.5 L2399.5 1307.7 L2401.8 1374.4 L2404.4 1293.4 L2406.6 1350.9 L2409.3 1334.7 L2411.7 1212.2 L2414.0 1375.3 L2416.6 1377.4 L2418.8 1363.1 L2420.9 1415.0 L2423.4 1369.8 L2426.0 1262.1 L2428.4 1364.3 L2430.9 1193.2 L2433.7 1409.8 L2436.5 1260.6 L2439.1 1324.7 L2441.9 1143.7 L2444.7 1388.1 L2447.0 1423.1 L2449.6 1383.3 L2451.8 1345.9 L2454.7 1390.6 L2456.9 1136.1 L2459.0 1284.8 L2461.3 1391.5 L2464.1 1429.5 L2466.9 1408.2 L2469.2 1434.5 L2471.6 1209.9 L2474.4 1155.5 L2476.7 1330.8 L2479.0 1401.6 L2481.9 1431.4 L2484.3 1255.6 L2487.1 1432.9 L2489.6 1427.3 L2492.5 1222.7 L2494.8 1260.2 L2496.9 1237.4 L2499.4 1428.8 L2502.2 1428.4 L2504.9 936.7 L2507.7 1253.2 L2509.7 1408.0 L2511.8 1223.3 L2514.1 1396.6 L2516.2 1358.8 L2518.7 1397.4 L2521.1 1111.3 L2523.3 1442.4 L2526.0 1328.0 L2528.8 1165.0 L2531.2 993.3 L2533.9 1125.1 L2536.7 1385.9 L2539.3 1180.0 L2541.6 1244.5 L2544.2 1350.2 L2546.2 1387.3 L2548.3 1281.6 L2550.9 1401.1 L2553.8 1437.2 L2556.1 1403.1 L2558.8 1368.5 L2561.2 1249.7 L2563.6 1388.5 L2565.7 1356.0 L2568.2 1409.4 L2570.5 1326.7 L2572.9 1350.4 L2574.9 1132.9 L2577.8 1192.2 L2580.1 1360.4 L2582.5 1398.7 L2584.8 1194.1 L2587.2 1366.5 L2589.4 1395.6 L2592.2 1467.4 L2594.4 1273.5 L2596.5 1086.7 L2598.8 1384.8 L2601.5 1386.7 L2603.5 1392.7 L2606.0 923.4 L2608.7 1420.8 L2610.7 1384.4 L2613.6 1441.6 L2615.7 1358.8 L2618.0 1442.3 L2620.4 1311.9 L2622.5 1315.4 L2625.2 1416.6 L2627.3 1439.5 L2630.2 1475.1 L2632.6 1424.6 L2635.3 1164.5 L2637.3 1169.6 L2639.7 1435.0 L2642.3 1472.7 L2645.0 1196.7 L2647.5 1245.8 L2649.8 1314.6 L2652.3 1270.5 L2654.8 1306.7 L2657.3 1420.7 L2659.6 1386.1 L2662.2 1419.0 L2664.4 1129.5 L2667.1 1301.4 L2669.6 1488.5 L2672.1 1440.2 L2674.3 1374.9 L2677.0 1143.7 L2679.5 1429.3 L2682.4 1393.8 L2685.1 1183.5 L2687.3 1253.8 L2689.8 1215.5 L2692.7 1224.0 L2695.3 1458.5 L2697.5 1055.1 L2700.2 1142.8 L2702.4 1275.2 L2704.6 1274.4" fill="none" stroke="#ee6a3c" stroke-opacity="0.22" stroke-width="3.8" stroke-linejoin="bevel" clip-path="url(#lclip)"/><path d="M1029.3 938.6 L1031.0 955.1 L1032.6 941.4 L1035.9 960.6 L1039.2 968.8 L1043.1 979.8 L1048.6 989.7 L1054.0 982.5 L1059.5 973.2 L1065.0 982.5 L1073.3 986.4 L1081.5 999.0 L1087.0 1007.2 L1092.5 1013.8 L1098.0 1026.4 L1103.4 1034.7 L1108.9 1045.7 L1114.4 1037.4 L1119.9 1044.6 L1125.4 1056.6 L1133.6 1068.7 L1139.1 1075.8 L1147.4 1089.6 L1155.6 1103.3 L1163.8 1117.0 L1172.1 1121.4 L1178.6 1117.0 L1184.1 1103.3 L1189.6 1104.9 L1195.7 1114.3 L1202.3 1111.5 L1207.7 1114.3 L1213.2 1104.9 L1217.1 1114.3 L1219.8 1096.7 L1227.0 1103.3 L1235.2 1115.9 L1240.7 1111.5 L1246.2 1122.5 L1254.4 1123.6 L1259.9 1133.5 L1265.4 1141.7 L1273.6 1137.9 L1281.8 1132.4 L1288.4 1149.9 L1295.6 1160.9 L1301.1 1154.3 L1306.5 1158.2 L1312.0 1155.4 L1320.3 1166.4 L1325.8 1160.9 L1334.0 1155.4 L1342.2 1144.5 L1350.5 1140.6 L1355.9 1144.5 L1361.4 1155.4 L1366.9 1154.3 L1372.4 1166.4 L1377.9 1169.2 L1383.4 1177.4 L1388.9 1171.9 L1392.7 1182.9 L1397.1 1173.0 L1402.6 1182.9 L1408.1 1195.0 L1416.3 1199.3 L1421.8 1205.9 L1427.3 1214.7 L1432.8 1207.6 L1441.0 1213.1 L1449.3 1216.9 L1457.5 1224.0 L1461.9 1218.6 L1468.5 1232.3 L1474.0 1235.0 L1482.2 1240.5 L1490.4 1232.3 L1498.7 1233.4 L1504.1 1231.2 L1506.9 1220.2 L1515.1 1221.3 L1520.6 1225.7 L1526.1 1215.8 L1531.6 1213.1 L1537.1 1205.9 L1542.6 1211.4 L1548.1 1218.6 L1555.2 1226.8 L1559.0 1218.6 L1566.2 1214.7 L1572.8 1215.8 L1581.0 1213.1 L1586.5 1211.4 L1592.0 1221.3 L1595.8 1229.5 L1603.0 1221.3 L1608.4 1224.0 L1615.6 1215.8 L1622.2 1226.8 L1628.8 1237.8 L1633.1 1221.3 L1639.7 1232.3 L1645.2 1237.8 L1652.4 1224.0 L1657.8 1210.3 L1666.1 1213.1 L1671.6 1221.3 L1677.1 1214.7 L1682.5 1226.8 L1688.0 1237.8 L1693.5 1232.3 L1699.0 1240.5 L1707.2 1235.0 L1714.4 1248.7 L1719.9 1235.0 L1726.5 1246.0 L1734.7 1244.4 L1740.2 1248.7 L1745.7 1235.0 L1751.2 1232.3 L1756.6 1251.5 L1764.9 1253.1 L1773.1 1233.4 L1780.0 1246.0 L1788.2 1248.7 L1796.5 1254.2 L1802.0 1232.3 L1808.5 1231.2 L1815.7 1248.7 L1823.9 1262.5 L1832.1 1257.0 L1840.4 1273.4 L1848.6 1281.7 L1851.4 1266.3 L1862.3 1270.7 L1870.6 1278.9 L1877.7 1259.7 L1884.3 1273.4 L1892.5 1268.0 L1900.8 1278.9 L1907.3 1284.4 L1914.5 1276.2 L1920.0 1281.7 L1927.1 1286.1 L1933.7 1265.2 L1939.2 1259.7 L1944.7 1268.0 L1954.6 1258.6 L1961.1 1268.0 L1969.4 1276.2 L1977.6 1289.9 L1985.8 1278.9 L1994.1 1281.7 L2005.1 1291.6 L2016.0 1278.9 L2024.3 1282.8 L2032.5 1287.2 L2043.5 1295.4 L2051.7 1300.9 L2064.3 1276.2 L2073.7 1289.9 L2084.6 1292.7 L2092.9 1295.4 L2101.1 1280.6 L2109.3 1292.7 L2120.3 1300.9 L2128.6 1303.6 L2139.5 1314.6 L2142.3 1303.6 L2156.0 1306.4 L2159.8 1276.2 L2167.0 1289.9 L2175.2 1292.7 L2183.4 1298.1 L2191.7 1309.1 L2198.3 1322.8 L2205.4 1298.1 L2213.6 1275.1 L2221.9 1284.4 L2232.8 1303.6 L2241.1 1311.9 L2246.6 1295.4 L2254.8 1306.4 L2265.8 1303.6 L2276.8 1309.1 L2282.3 1311.9 L2290.5 1303.6 L2298.7 1300.9 L2302.6 1289.9 L2309.7 1303.6 L2317.9 1292.7 L2327.8 1281.7 L2334.4 1291.6 L2342.6 1287.2 L2350.9 1306.4 L2359.1 1314.6 L2368.4 1325.6 L2378.3 1309.1 L2389.3 1311.9 L2400.3 1303.6 L2411.2 1288.3 L2416.7 1286.1 L2422.2 1298.1 L2427.7 1292.7 L2434.3 1300.9 L2441.4 1309.1 L2452.4 1330.0 L2460.6 1322.8 L2472.7 1330.0 L2482.6 1311.9 L2490.8 1303.6 L2499.1 1309.1 L2510.0 1320.1 L2518.3 1331.1 L2529.3 1342.1 L2540.2 1339.3 L2551.2 1341.0 L2562.2 1335.5 L2573.2 1343.2 L2584.1 1336.6 L2592.4 1347.5 L2600.6 1342.1 L2608.9 1353.0 L2619.8 1351.9 L2628.1 1342.1 L2636.3 1336.6 L2647.3 1339.3 L2653.9 1332.2 L2661.0 1342.1 L2670.3 1355.8 L2677.5 1346.5 L2685.7 1344.8 L2693.9 1341.0 L2697.8 1328.3 L2704.9 1335.5" fill="none" stroke="#ed7046" stroke-width="4" stroke-linejoin="round"/><circle cx="2434.3" cy="1300.9" r="7" fill="#ed7046"/><text x="826.5" y="1019.1" font-size="20.8" text-anchor="end" fill="#484848" stroke="#fff" stroke-width="0.5" letter-spacing="0.65" font-family="Liberation Sans, sans-serif">0.600</text><text x="826.5" y="1104.2" font-size="20.8" text-anchor="end" fill="#484848" stroke="#fff" stroke-width="0.5" letter-spacing="0.65" font-family="Liberation Sans, sans-serif">0.500</text><text x="826.5" y="1189.3" font-size="20.8" text-anchor="end" fill="#484848" stroke="#fff" stroke-width="0.5" letter-spacing="0.65" font-family="Liberation Sans, sans-serif">0.400</text><text x="826.5" y="1274.4" font-size="20.8" text-anchor="end" fill="#484848" stroke="#fff" stroke-width="0.5" letter-spacing="0.65" font-family="Liberation Sans, sans-serif">0.300</text><text x="826.5" y="1359.4" font-size="20.8" text-anchor="end" fill="#484848" stroke="#fff" stroke-width="0.5" letter-spacing="0.65" font-family="Liberation Sans, sans-serif">0.200</text><text x="826.5" y="1444.5" font-size="20.8" text-anchor="end" fill="#484848" stroke="#fff" stroke-width="0.5" letter-spacing="0.65" font-family="Liberation Sans, sans-serif">0.100</text><text x="826.5" y="1529.6" font-size="20.8" text-anchor="end" fill="#484848" stroke="#fff" stroke-width="0.5" letter-spacing="0.65" font-family="Liberation Sans, sans-serif">0.00</text><text x="1022.8" y="1643.0" font-size="20.8" text-anchor="middle" fill="#484848" stroke="#fff" stroke-width="0.5" letter-spacing="0.65" font-family="Liberation Sans, sans-serif">0.000</text><text x="1202.1" y="1643.0" font-size="20.8" text-anchor="middle" fill="#484848" stroke="#fff" stroke-width="0.5" letter-spacing="0.65" font-family="Liberation Sans, sans-serif">5.000k</text><text x="1381.4" y="1643.0" font-size="20.8" text-anchor="middle" fill="#484848" stroke="#fff" stroke-width="0.5" letter-spacing="0.65" font-family="Liberation Sans, sans-serif">10.00k</text><text x="1560.7" y="1643.0" font-size="20.8" text-anchor="middle" fill="#484848" stroke="#fff" stroke-width="0.5" letter-spacing="0.65" font-family="Liberation Sans, sans-serif">15.00k</text><text x="1740.0" y="1643.0" font-size="20.8" text-anchor="middle" fill="#484848" stroke="#fff" stroke-width="0.5" letter-spacing="0.65" font-family="Liberation Sans, sans-serif">20.00k</text><text x="1919.3" y="1643.0" font-size="20.8" text-anchor="middle" fill="#484848" stroke="#fff" stroke-width="0.5" letter-spacing="0.65" font-family="Liberation Sans, sans-serif">25.00k</text><text x="2098.6" y="1643.0" font-size="20.8" text-anchor="middle" fill="#484848" stroke="#fff" stroke-width="0.5" letter-spacing="0.65" font-family="Liberation Sans, sans-serif">30.00k</text><text x="2277.9" y="1643.0" font-size="20.8" text-anchor="middle" fill="#484848" stroke="#fff" stroke-width="0.5" letter-spacing="0.65" font-family="Liberation Sans, sans-serif">35.00k</text><text x="2457.2" y="1643.0" font-size="20.8" text-anchor="middle" fill="#484848" stroke="#fff" stroke-width="0.5" letter-spacing="0.65" font-family="Liberation Sans, sans-serif">40.00k</text><text x="2636.5" y="1643.0" font-size="20.8" text-anchor="middle" fill="#484848" stroke="#fff" stroke-width="0.5" letter-spacing="0.65" font-family="Liberation Sans, sans-serif">45.00k</text><path d="M809.5 1772.3 V1839.0" stroke="#adadad" stroke-width="1.9"/><path d="M901.6 1772.3 V1839.0" stroke="#cdcdcd" stroke-width="1.9"/><path d="M947.6 1772.3 V1839.0" stroke="#cdcdcd" stroke-width="1.9"/><path d="M993.7 1772.3 V1839.0" stroke="#cdcdcd" stroke-width="1.9"/><path d="M1039.8 1772.3 V1839.0" stroke="#cdcdcd" stroke-width="1.9"/><path d="M1085.8 1772.3 V1839.0" stroke="#cdcdcd" stroke-width="1.9"/><path d="M1131.8 1772.3 V1839.0" stroke="#cdcdcd" stroke-width="1.9"/><path d="M1177.9 1772.3 V1839.0" stroke="#cdcdcd" stroke-width="1.9"/><path d="M1224.0 1772.3 V1839.0" stroke="#cdcdcd" stroke-width="1.9"/><path d="M1270.0 1772.3 V1839.0" stroke="#cdcdcd" stroke-width="1.9"/><path d="M1316.0 1772.3 V1839.0" stroke="#cdcdcd" stroke-width="1.9"/><path d="M800.5 1772.3 H1316.0" stroke="#cdcdcd" stroke-width="1.9"/><path d="M800.5 1830.0 H1316.0" stroke="#adadad" stroke-width="1.9"/><path d="M855.5 1772.3 V1830.0" stroke="#8f8f8f" stroke-width="2.8"/><path d="M855.5 1830.0 v9" stroke="#adadad" stroke-width="1.9"/><rect x="912.8" y="1773" width="14.5" height="40" fill="#ee6a3c" fill-opacity=".75"/><rect x="972.7" y="1773" width="16.5" height="40" fill="#ee6a3c" fill-opacity=".75"/><rect x="1005.8" y="1773" width="12.4" height="40" fill="#ee6a3c" fill-opacity=".75"/><rect x="1043.0" y="1773" width="8.3" height="40" fill="#ee6a3c" fill-opacity=".75"/><rect x="1076.0" y="1773" width="8.3" height="40" fill="#ee6a3c" fill-opacity=".75"/><rect x="1102.9" y="1773" width="10.3" height="40" fill="#ee6a3c" fill-opacity=".75"/><rect x="1144.2" y="1773" width="8.3" height="40" fill="#ee6a3c" fill-opacity=".75"/><rect x="1189.7" y="1773" width="18.6" height="40" fill="#ee6a3c" fill-opacity=".75"/><rect x="1224.8" y="1773" width="16.5" height="40" fill="#ee6a3c" fill-opacity=".75"/><path d="M1422.3 1772.3 V1839.0" stroke="#adadad" stroke-width="1.9"/><path d="M1514.2 1772.3 V1839.0" stroke="#cdcdcd" stroke-width="1.9"/><path d="M1560.2 1772.3 V1839.0" stroke="#cdcdcd" stroke-width="1.9"/><path d="M1606.2 1772.3 V1839.0" stroke="#cdcdcd" stroke-width="1.9"/><path d="M1652.1 1772.3 V1839.0" stroke="#cdcdcd" stroke-width="1.9"/><path d="M1698.1 1772.3 V1839.0" stroke="#cdcdcd" stroke-width="1.9"/><path d="M1744.1 1772.3 V1839.0" stroke="#cdcdcd" stroke-width="1.9"/><path d="M1790.1 1772.3 V1839.0" stroke="#cdcdcd" stroke-width="1.9"/><path d="M1836.0 1772.3 V1839.0" stroke="#cdcdcd" stroke-width="1.9"/><path d="M1882.0 1772.3 V1839.0" stroke="#cdcdcd" stroke-width="1.9"/><path d="M1928.0 1772.3 V1839.0" stroke="#cdcdcd" stroke-width="1.9"/><path d="M1413.3 1772.3 H1928.0" stroke="#cdcdcd" stroke-width="1.9"/><path d="M1413.3 1830.0 H1928.0" stroke="#adadad" stroke-width="1.9"/><path d="M1468.3 1772.3 V1830.0" stroke="#8f8f8f" stroke-width="2.8"/><path d="M1468.3 1830.0 v9" stroke="#adadad" stroke-width="1.9"/><path d="M2051.8 1772.3 V1839.0" stroke="#adadad" stroke-width="1.9"/><path d="M2140.6 1772.3 V1839.0" stroke="#cdcdcd" stroke-width="1.9"/><path d="M2184.9 1772.3 V1839.0" stroke="#cdcdcd" stroke-width="1.9"/><path d="M2229.3 1772.3 V1839.0" stroke="#cdcdcd" stroke-width="1.9"/><path d="M2273.7 1772.3 V1839.0" stroke="#cdcdcd" stroke-width="1.9"/><path d="M2318.1 1772.3 V1839.0" stroke="#cdcdcd" stroke-width="1.9"/><path d="M2362.5 1772.3 V1839.0" stroke="#cdcdcd" stroke-width="1.9"/><path d="M2406.8 1772.3 V1839.0" stroke="#cdcdcd" stroke-width="1.9"/><path d="M2451.2 1772.3 V1839.0" stroke="#cdcdcd" stroke-width="1.9"/><path d="M2495.6 1772.3 V1839.0" stroke="#cdcdcd" stroke-width="1.9"/><path d="M2540.0 1772.3 V1839.0" stroke="#cdcdcd" stroke-width="1.9"/><path d="M2042.8 1772.3 H2540.0" stroke="#cdcdcd" stroke-width="1.9"/><path d="M2042.8 1830.0 H2540.0" stroke="#adadad" stroke-width="1.9"/><path d="M2096.2 1772.3 V1830.0" stroke="#8f8f8f" stroke-width="2.8"/><path d="M2096.2 1830.0 v9" stroke="#adadad" stroke-width="1.9"/></svg>
<svg class="b" style="left:728.8px;top:812.4px" width="43.2" height="43.2" viewBox="0 0 24 24"><path d="M7 14H5v5h5v-2H7v-3zm-2-4h2V7h3V5H5v5zm12 7h-3v2h5v-5h-2v3zM14 5v2h3v3h2V5h-5z" fill="#4a8fe8"/></svg><svg class="b" style="left:786.4px;top:812.4px" width="43.2" height="43.2" viewBox="0 0 24 24"><path d="M3 17h18v-2H3v2zm0 3h18v-1H3v1zm0-7h18v-3H3v3zm0-9v4h18V4H3z" fill="#4a8fe8"/></svg><svg class="b" style="left:844.0px;top:812.4px" width="43.2" height="43.2" viewBox="0 0 24 24"><path d="M12.01 5.5L10 8h4l-1.99-2.5zM18 10v4l2.5-1.99L18 10zM6 10l-2.5 2.01L6 14v-4zm8 6h-4l2.01 2.5L14 16zm7-13H3c-1.1 0-2 .9-2 2v14c0 1.1.9 2 2 2h18c1.1 0 2-.9 2-2V5c0-1.1-.9-2-2-2zm0 16.01H3V4.99h18v14.02z" fill="#4a8fe8"/></svg>
<svg class="b" style="left:1340.8px;top:812.4px" width="43.2" height="43.2" viewBox="0 0 24 24"><path d="M7 14H5v5h5v-2H7v-3zm-2-4h2V7h3V5H5v5zm12 7h-3v2h5v-5h-2v3zM14 5v2h3v3h2V5h-5z" fill="#4a8fe8"/></svg><svg class="b" style="left:1398.4px;top:812.4px" width="43.2" height="43.2" viewBox="0 0 24 24"><path d="M3 17h18v-2H3v2zm0 3h18v-1H3v1zm0-7h18v-3H3v3zm0-9v4h18V4H3z" fill="#4a8fe8"/></svg><svg class="b" style="left:1456.0px;top:812.4px" width="43.2" height="43.2" viewBox="0 0 24 24"><path d="M12.01 5.5L10 8h4l-1.99-2.5zM18 10v4l2.5-1.99L18 10zM6 10l-2.5 2.01L6 14v-4zm8 6h-4l2.01 2.5L14 16zm7-13H3c-1.1 0-2 .9-2 2v14c0 1.1.9 2 2 2h18c1.1 0 2-.9 2-2V5c0-1.1-.9-2-2-2zm0 16.01H3V4.99h18v14.02z" fill="#4a8fe8"/></svg>
<svg class="b" style="left:1952.8px;top:812.4px" width="43.2" height="43.2" viewBox="0 0 24 24"><path d="M7 14H5v5h5v-2H7v-3zm-2-4h2V7h3V5H5v5zm12 7h-3v2h5v-5h-2v3zM14 5v2h3v3h2V5h-5z" fill="#4a8fe8"/></svg><svg class="b" style="left:2010.4px;top:812.4px" width="43.2" height="43.2" viewBox="0 0 24 24"><path d="M3 17h18v-2H3v2zm0 3h18v-1H3v1zm0-7h18v-3H3v3zm0-9v4h18V4H3z" fill="#4a8fe8"/></svg><svg class="b" style="left:2068.0px;top:812.4px" width="43.2" height="43.2" viewBox="0 0 24 24"><path d="M12.01 5.5L10 8h4l-1.99-2.5zM18 10v4l2.5-1.99L18 10zM6 10l-2.5 2.01L6 14v-4zm8 6h-4l2.01 2.5L14 16zm7-13H3c-1.1 0-2 .9-2 2v14c0 1.1.9 2 2 2h18c1.1 0 2-.9 2-2V5c0-1.1-.9-2-2-2zm0 16.01H3V4.99h18v14.02z" fill="#4a8fe8"/></svg>
<div class="b" style="left:721.7px;top:1648.5px;width:57.6px;height:57.6px;background:#dedede;border-radius:50%;"></div><svg class="b" style="left:728.9px;top:1655.7px" width="43.2" height="43.2" viewBox="0 0 24 24"><path d="M7 14H5v5h5v-2H7v-3zm-2-4h2V7h3V5H5v5zm12 7h-3v2h5v-5h-2v3zM14 5v2h3v3h2V5h-5z" fill="#4a8fe8"/></svg><svg class="b" style="left:786.5px;top:1655.7px" width="43.2" height="43.2" viewBox="0 0 24 24"><path d="M3 17h18v-2H3v2zm0 3h18v-1H3v1zm0-7h18v-3H3v3zm0-9v4h18V4H3z" fill="#4a8fe8"/></svg><svg class="b" style="left:844.1px;top:1655.7px" width="43.2" height="43.2" viewBox="0 0 24 24"><path d="M12.01 5.5L10 8h4l-1.99-2.5zM18 10v4l2.5-1.99L18 10zM6 10l-2.5 2.01L6 14v-4zm8 6h-4l2.01 2.5L14 16zm7-13H3c-1.1 0-2 .9-2 2v14c0 1.1.9 2 2 2h18c1.1 0 2-.9 2-2V5c0-1.1-.9-2-2-2zm0 16.01H3V4.99h18v14.02z" fill="#4a8fe8"/></svg>
<div class="b" style="left:2862.0px;top:430.0px;width:20.0px;height:866.0px;background:#9b9b9b;border-radius:9px;"></div>
<span class="t" id="wm1" style="left:2629.0px;top:1700.0px;font-size:42.5px;color:#9c9c9c;transform:scaleX(0.9976);font-family:"Liberation Sans","Noto Sans CJK SC",sans-serif;">华为云社区</span>
<span class="t" id="wm2" style="left:2629.0px;top:1741.5px;font-size:23px;color:#9c9c9c;transform:scaleX(0.9585);">bbs.huaweicloud.com</span>
<div class="b" style="left:0.0px;top:336.0px;width:684.5px;height:1464.0px;background:#f5f5f5;"></div>
<svg class="b" style="left:54.3px;top:380.0px;" width="32" height="32" viewBox="0 0 32 32"><rect x="1.8" y="1.8" width="28.4" height="28.4" rx="2.6" fill="none" stroke="#757575" stroke-width="3.6"/></svg>
<span class="t" id="sb_show" style="left:101.2px;top:384.5px;font-size:25.2px;color:#222;transform:scaleX(0.9998);">Show data download links</span>
<svg class="b" style="left:54.3px;top:430.0px;" width="32" height="32" viewBox="0 0 32 32"><rect x="0" y="0" width="32" height="32" rx="3.6" fill="#757575"/><path d="M5 16 L12.6 23.6 L27.5 8.6" stroke="#fff" stroke-width="4.3" fill="none"/></svg>
<span class="t" id="sb_ign" style="left:101.2px;top:434.3px;font-size:25.2px;color:#222;transform:scaleX(1.0071);">Ignore outliers in chart scaling</span>
<span class="t" id="sb_tip" style="left:55.0px;top:498.7px;font-size:25.2px;color:#111;transform:scaleX(1.0236);">Tooltip sorting method:</span>
<span class="t" id="sb_def" style="left:333.2px;top:491.8px;font-size:28.8px;color:#222;transform:scaleX(1.0212);">default</span>
<svg class="b" style="left:490.5px;top:504.0px;" width="19" height="10" viewBox="0 0 19 10"><path d="M0 0 H19 L9.5 9.5Z" fill="#777"/></svg>
<div class="b" style="left:332.0px;top:530.2px;width:190.0px;height:2.0px;background:#737373;"></div>
<div class="b" style="left:0.0px;top:570.3px;width:630.5px;height:1.9px;background:#d4d4d4;"></div>
<span class="t" id="sb_smooth" style="left:54.5px;top:602.3px;font-size:25.2px;color:#3c3c3c;transform:scaleX(1.0031);">Smoothing</span>
<div class="b" style="left:104.0px;top:672.2px;width:390.0px;height:3.6px;background:#bdbdbd;"></div>
<div class="b" style="left:104.0px;top:672.2px;width:372.0px;height:3.6px;background:#e58130;"></div>
<div class="b" style="left:465.7px;top:663.0px;width:22.0px;height:22.0px;background:#e58130;border-radius:50%;"></div>
<span class="t" id="sb_096" style="left:522.7px;top:663.1px;font-size:25.2px;color:#222;transform:scaleX(0.9728);">0.96</span>
<div class="b" style="left:0.0px;top:736.2px;width:630.5px;height:1.9px;background:#d4d4d4;"></div>
<span class="t" id="sb_hax" style="left:55.0px;top:768.4px;font-size:25.2px;color:#3c3c3c;transform:scaleX(1.0102);">Horizontal Axis</span>
<div class="b" style="left:60.2px;top:814.2px;width:171.8px;height:59.6px;background:#757575;border-radius:5.4px;"></div>
<span class="t" id="sb_step" style="left:117.7px;top:832.2px;font-size:23.4px;color:#fff;transform:scaleX(0.9150);">STEP</span>
<span class="t" id="sb_rel" style="left:279.0px;top:832.2px;font-size:23.4px;color:#757575;transform:scaleX(0.9133);">RELATIVE</span>
<span class="t" id="sb_wall" style="left:483.0px;top:832.2px;font-size:23.4px;color:#757575;transform:scaleX(0.9502);">WALL</span>
<div class="b" style="left:0.0px;top:909.2px;width:630.5px;height:1.9px;background:#d4d4d4;"></div>
<span class="t" id="sb_runs" style="left:55.0px;top:940.7px;font-size:25.2px;color:#3c3c3c;transform:scaleX(0.9233);">Runs</span>
<span class="t" id="sb_regex" style="left:55.0px;top:1000.5px;font-size:25.2px;color:#757575;transform:scaleX(0.9899);">Write a regex to filter runs</span>
<div class="b" style="left:54.0px;top:1033.8px;width:576.0px;height:2.0px;background:#737373;"></div>
<svg class="b" style="left:62.2px;top:1058.2px;" width="32" height="32" viewBox="0 0 32 32"><rect x="0" y="0" width="32" height="32" rx="3.6" fill="#ee7148"/><path d="M5 16 L12.6 23.6 L27.5 8.6" stroke="#fff" stroke-width="4.3" fill="none"/></svg>
<svg class="b" style="left:106.5px;top:1060.7px;" width="27" height="27" viewBox="0 0 27 27"><circle cx="13.5" cy="13.5" r="11.7" fill="none" stroke="#ee7a5a" stroke-width="2.6"/></svg>
<span class="t" id="sb_dot" style="left:152.6px;top:1060.5px;font-size:23.4px;color:#111;">.</span>
<div class="b" style="left:54.4px;top:1658.0px;width:569.6px;height:59.3px;background:#e0e0e0;border-radius:5.4px;"></div>
<span class="t" id="sb_toggle" style="left:239.5px;top:1676.5px;font-size:23.4px;color:#757575;transform:scaleX(0.9208);">TOGGLE ALL RUNS</span>
<span class="t" id="sb_s3" style="left:55.0px;top:1730.6px;font-size:23.4px;color:#757575;transform:scaleX(1.0667);">s3://dls-dogcat/log/128/</span>
<div class="b" style="left:0.0px;top:219.5px;width:2880.0px;height:116.5px;background:#e58130;box-shadow:0 3px 8px rgba(0,0,0,.42);"></div>
<span class="t" id="hd_title" style="left:48.0px;top:259.5px;font-size:36px;color:#fff;transform:scaleX(0.9602);">TensorBoard</span>
<span class="t" id="hd_scalars" style="left:885.7px;top:264.7px;font-size:25.2px;color:#fff;transform:scaleX(0.9295);-webkit-text-stroke:0.45px currentColor;">SCALARS</span>
<span class="t" id="hd_graphs" style="left:1216.7px;top:264.7px;font-size:25.2px;color:rgba(255,255,255,.72);transform:scaleX(0.9147);-webkit-text-stroke:0.45px currentColor;">GRAPHS</span>
<span class="t" id="hd_proj" style="left:1535.0px;top:264.7px;font-size:25.2px;color:rgba(255,255,255,.72);transform:scaleX(0.9168);-webkit-text-stroke:0.45px currentColor;">PROJECTOR</span>
<span class="t" id="hd_inact" style="left:1809.0px;top:264.7px;font-size:25.2px;color:rgba(255,255,255,.72);transform:scaleX(0.9469);-webkit-text-stroke:0.45px currentColor;">INACTIVE</span>
<svg class="b" style="left:2072.0px;top:273.0px;" width="20" height="10" viewBox="0 0 20 10"><path d="M0 0 H20 L10 10Z" fill="#fff"/></svg>
<div class="b" style="left:776.0px;top:332.2px;width:330.6px;height:3.8px;background:#fff;"></div>
<svg class="b" style="left:2649.4px;top:255.6px" width="43.2" height="43.2" viewBox="0 0 24 24"><path d="M17.65 6.35C16.2 4.9 14.21 4 12 4c-4.42 0-7.99 3.58-7.99 8s3.57 8 7.99 8c3.73 0 6.84-2.55 7.73-6h-2.08c-.82 2.33-3.04 4-5.65 4-3.31 0-6-2.69-6-6s2.69-6 6-6c1.66 0 3.14.69 4.22 1.78L13 11h7V4l-2.35 2.35z" fill="#fff"/></svg>
<svg class="b" style="left:2721.5px;top:255.6px" width="43.2" height="43.2" viewBox="0 0 24 24"><path d="M19.43 12.98c.04-.32.07-.64.07-.98s-.03-.66-.07-.98l2.11-1.65c.19-.15.24-.42.12-.64l-2-3.46c-.12-.22-.39-.3-.61-.22l-2.49 1c-.52-.4-1.08-.73-1.69-.98l-.38-2.65C14.46 2.18 14.25 2 14 2h-4c-.25 0-.46.18-.49.42l-.38 2.65c-.61.25-1.17.59-1.69.98l-2.49-1c-.23-.09-.49 0-.61.22l-2 3.46c-.13.22-.07.49.12.64l2.11 1.65c-.04.32-.07.65-.07.98s.03.66.07.98l-2.11 1.65c-.19.15-.24.42-.12.64l2 3.46c.12.22.39.3.61.22l2.49-1c.52.4 1.08.73 1.69.98l.38 2.65c.03.24.24.42.49.42h4c.25 0 .46-.18.49-.42l.38-2.65c.61-.25 1.17-.59 1.69-.98l2.49 1c.23.09.49 0 .61-.22l2-3.46c.12-.22.07-.49-.12-.64l-2.11-1.65zM12 15.5c-1.93 0-3.5-1.57-3.5-3.5s1.57-3.5 3.5-3.5 3.5 1.57 3.5 3.5-1.57 3.5-3.5 3.5z" fill="#fff"/></svg>
<svg class="b" style="left:2794.0px;top:255.6px" width="43.2" height="43.2" viewBox="0 0 24 24"><path d="M11 18h2v-2h-2v2zm1-16C6.48 2 2 6.48 2 12s4.48 10 10 10 10-4.48 10-10S17.52 2 12 2zm0 18c-4.41 0-8-3.59-8-8s3.59-8 8-8 8 3.59 8 8-3.59 8-8 8zm0-14c-2.21 0-4 1.79-4 4h2c0-1.1.9-2 2-2s2 .9 2 2c0 2-3 1.75-3 5h2c0-2.25 3-2.5 3-5 0-2.21-1.79-4-4-4z" fill="#fff"/></svg>
<div class="b" style="left:0.0px;top:0.0px;width:2880.0px;height:84.0px;background:#dee1e6;"></div>
<svg class="b" style="left:891px;top:16px" width="496" height="68" viewBox="0 0 496 68"><path d="M0 68 C 14 68 24 60 24 44 L24 22 C24 8 32 0 46 0 L450 0 C464 0 472 8 472 22 L472 44 C472 60 482 68 496 68Z" fill="#fff"/></svg>
<svg class="b" style="left:40.0px;top:33.0px;" width="32" height="33" viewBox="0 0 32 33"><path d="M0 -2 C -1.2 -4.8 -3.3 -8.8 -3.1 -13.1 C -2.0 -16.3 1.6 -16.3 3.0 -12.8 C 3.3 -8.0 1.2 -4.8 0 -2Z" transform="translate(16 25) rotate(-82)" fill="#e03a45"/><path d="M0 -2 C -1.2 -5.7 -3.7 -10.5 -3.5 -15.6 C -2.2 -19.4 1.9 -19.4 3.3 -15.2 C 3.7 -9.5 1.2 -5.7 0 -2Z" transform="translate(16 25) rotate(-58)" fill="#e03a45"/><path d="M0 -2 C -1.2 -6.8 -3.9 -12.4 -3.7 -18.4 C -2.3 -22.9 1.9 -22.9 3.5 -18.0 C 3.9 -11.2 1.2 -6.8 0 -2Z" transform="translate(16 25) rotate(-34)" fill="#e03a45"/><path d="M0 -2 C -1.2 -7.2 -3.8 -13.2 -3.6 -19.7 C -2.3 -24.5 1.9 -24.5 3.4 -19.2 C 3.8 -12.0 1.2 -7.2 0 -2Z" transform="translate(16 25) rotate(-11)" fill="#e03a45"/><path d="M0 -2 C -1.2 -7.2 -3.8 -13.2 -3.6 -19.7 C -2.3 -24.5 1.9 -24.5 3.4 -19.2 C 3.8 -12.0 1.2 -7.2 0 -2Z" transform="translate(16 25) rotate(11)" fill="#e03a45"/><path d="M0 -2 C -1.2 -6.8 -3.9 -12.4 -3.7 -18.4 C -2.3 -22.9 1.9 -22.9 3.5 -18.0 C 3.9 -11.2 1.2 -6.8 0 -2Z" transform="translate(16 25) rotate(34)" fill="#e03a45"/><path d="M0 -2 C -1.2 -5.7 -3.7 -10.5 -3.5 -15.6 C -2.2 -19.4 1.9 -19.4 3.3 -15.2 C 3.7 -9.5 1.2 -5.7 0 -2Z" transform="translate(16 25) rotate(58)" fill="#e03a45"/><path d="M0 -2 C -1.2 -4.8 -3.3 -8.8 -3.1 -13.1 C -2.0 -16.3 1.6 -16.3 3.0 -12.8 C 3.3 -8.0 1.2 -4.8 0 -2Z" transform="translate(16 25) rotate(82)" fill="#e03a45"/><rect x="0.5" y="27.4" width="31" height="4.6" fill="#6d5662"/><text x="16" y="31.4" font-size="4.6" font-weight="700" text-anchor="middle" fill="#c9bcc3" font-family="Liberation Sans, sans-serif" textLength="28" lengthAdjust="spacingAndGlyphs">HUAWEI</text></svg>
<span class="t" id="tab0" style="left:89.0px;top:38.2px;font-size:24px;color:#54585d;transform:scaleX(1.0227);">费用中心-优惠券</span>
<svg class="b" style="left:427.0px;top:41.5px;" width="18" height="18" viewBox="0 0 18 18"><path d="M1.5 1.5 L16.5 16.5 M16.5 1.5 L1.5 16.5" stroke="#45494d" stroke-width="3" fill="none"/></svg>
<svg class="b" style="left:489.5px;top:33.0px;" width="32" height="33" viewBox="0 0 32 33"><path d="M0 -2 C -1.2 -4.8 -3.3 -8.8 -3.1 -13.1 C -2.0 -16.3 1.6 -16.3 3.0 -12.8 C 3.3 -8.0 1.2 -4.8 0 -2Z" transform="translate(16 25) rotate(-82)" fill="#e03a45"/><path d="M0 -2 C -1.2 -5.7 -3.7 -10.5 -3.5 -15.6 C -2.2 -19.4 1.9 -19.4 3.3 -15.2 C 3.7 -9.5 1.2 -5.7 0 -2Z" transform="translate(16 25) rotate(-58)" fill="#e03a45"/><path d="M0 -2 C -1.2 -6.8 -3.9 -12.4 -3.7 -18.4 C -2.3 -22.9 1.9 -22.9 3.5 -18.0 C 3.9 -11.2 1.2 -6.8 0 -2Z" transform="translate(16 25) rotate(-34)" fill="#e03a45"/><path d="M0 -2 C -1.2 -7.2 -3.8 -13.2 -3.6 -19.7 C -2.3 -24.5 1.9 -24.5 3.4 -19.2 C 3.8 -12.0 1.2 -7.2 0 -2Z" transform="translate(16 25) rotate(-11)" fill="#e03a45"/><path d="M0 -2 C -1.2 -7.2 -3.8 -13.2 -3.6 -19.7 C -2.3 -24.5 1.9 -24.5 3.4 -19.2 C 3.8 -12.0 1.2 -7.2 0 -2Z" transform="translate(16 25) rotate(11)" fill="#e03a45"/><path d="M0 -2 C -1.2 -6.8 -3.9 -12.4 -3.7 -18.4 C -2.3 -22.9 1.9 -22.9 3.5 -18.0 C 3.9 -11.2 1.2 -6.8 0 -2Z" transform="translate(16 25) rotate(34)" fill="#e03a45"/><path d="M0 -2 C -1.2 -5.7 -3.7 -10.5 -3.5 -15.6 C -2.2 -19.4 1.9 -19.4 3.3 -15.2 C 3.7 -9.5 1.2 -5.7 0 -2Z" transform="translate(16 25) rotate(58)" fill="#e03a45"/><path d="M0 -2 C -1.2 -4.8 -3.3 -8.8 -3.1 -13.1 C -2.0 -16.3 1.6 -16.3 3.0 -12.8 C 3.3 -8.0 1.2 -4.8 0 -2Z" transform="translate(16 25) rotate(82)" fill="#e03a45"/><rect x="0.5" y="27.4" width="31" height="4.6" fill="#6d5662"/><text x="16" y="31.4" font-size="4.6" font-weight="700" text-anchor="middle" fill="#c9bcc3" font-family="Liberation Sans, sans-serif" textLength="28" lengthAdjust="spacingAndGlyphs">HUAWEI</text></svg>
<span class="t" id="tab1" style="left:538.5px;top:38.2px;font-size:24px;color:#54585d;transform:scaleX(1.0257);">管理控制台-深度学习服务</span>
<svg class="b" style="left:875.0px;top:41.5px;" width="18" height="18" viewBox="0 0 18 18"><path d="M1.5 1.5 L16.5 16.5 M16.5 1.5 L1.5 16.5" stroke="#45494d" stroke-width="3" fill="none"/></svg>
<svg class="b" style="left:938.0px;top:34.0px;" width="32" height="32" viewBox="0 0 32 32"><rect width="32" height="32" fill="#e8672c"/><path d="M7 20 L13 13.5 L17 17.5 L25 11.5" fill="none" stroke="#fbb03b" stroke-width="2.1" stroke-linecap="round" stroke-linejoin="round"/><circle cx="25.2" cy="11.3" r="1.9" fill="#fbb03b"/></svg>
<span class="t" id="tab2" style="left:986.5px;top:38.2px;font-size:24px;color:#202124;transform:scaleX(1.0362);">TensorBoard</span>
<svg class="b" style="left:1323.0px;top:41.5px;" width="18" height="18" viewBox="0 0 18 18"><path d="M1.5 1.5 L16.5 16.5 M16.5 1.5 L1.5 16.5" stroke="#45494d" stroke-width="3" fill="none"/></svg>
<svg class="b" style="left:1386.0px;top:34.0px;" width="32" height="32" viewBox="0 0 32 32"><rect width="32" height="32" fill="#e8672c"/><path d="M7 20 L13 13.5 L17 17.5 L25 11.5" fill="none" stroke="#fbb03b" stroke-width="2.1" stroke-linecap="round" stroke-linejoin="round"/><circle cx="25.2" cy="11.3" r="1.9" fill="#fbb03b"/></svg>
<span class="t" id="tab3" style="left:1434.5px;top:38.2px;font-size:24px;color:#54585d;transform:scaleX(1.0362);">TensorBoard</span>
<svg class="b" style="left:1771.0px;top:41.5px;" width="18" height="18" viewBox="0 0 18 18"><path d="M1.5 1.5 L16.5 16.5 M16.5 1.5 L1.5 16.5" stroke="#45494d" stroke-width="3" fill="none"/></svg>
<svg class="b" style="left:1834.0px;top:33.5px;" width="33" height="33" viewBox="0 0 16 16"><path d="M8 0C3.58 0 0 3.58 0 8c0 3.54 2.29 6.53 5.47 7.59.4.07.55-.17.55-.38 0-.19-.01-.82-.01-1.49-2.01.37-2.53-.49-2.69-.94-.09-.23-.48-.94-.82-1.13-.28-.15-.68-.52-.01-.53.63-.01 1.08.58 1.23.82.72 1.21 1.87.87 2.33.66.07-.52.28-.87.51-1.07-1.78-.2-3.64-.89-3.64-3.95 0-.87.31-1.59.82-2.15-.08-.2-.36-1.02.08-2.12 0 0 .67-.21 2.2.82.64-.18 1.32-.27 2-.27.68 0 1.36.09 2 .27 1.53-1.04 2.2-.82 2.2-.82.44 1.1.16 1.92.08 2.12.51.56.82 1.27.82 2.15 0 3.07-1.87 3.75-3.65 3.95.29.25.54.73.54 1.48 0 1.07-.01 1.93-.01 2.2 0 .21.15.46.55.38A8.013 8.013 0 0016 8c0-4.42-3.58-8-8-8z" fill="#111"/></svg>
<span class="t" id="tab4" style="left:1883.0px;top:38.2px;font-size:24px;color:#54585d;transform:scaleX(1.0643);-webkit-mask-image:linear-gradient(90deg,#000 82%,transparent 99%);mask-image:linear-gradient(90deg,#000 82%,transparent 99%);">dls-example/Using MoXing t</span>
<svg class="b" style="left:2219.0px;top:41.5px;" width="18" height="18" viewBox="0 0 18 18"><path d="M1.5 1.5 L16.5 16.5 M16.5 1.5 L1.5 16.5" stroke="#45494d" stroke-width="3" fill="none"/></svg>
<svg class="b" style="left:2282.0px;top:34.0px;" width="32" height="32" viewBox="0 0 32 32"><rect width="32" height="32" fill="#fff"/><ellipse cx="7" cy="13.5" rx="2.9" ry="3.6" fill="#3b7fe6"/><ellipse cx="25" cy="13.5" rx="2.9" ry="3.6" fill="#3b7fe6"/><ellipse cx="12.3" cy="7.5" rx="2.8" ry="3.7" fill="#3b7fe6"/><ellipse cx="19.7" cy="7.5" rx="2.8" ry="3.7" fill="#3b7fe6"/><path d="M16 13 C20 13 22 17 25 20 C28 24 26 29 22 29 C19 29 18 28.3 16 28.3 C14 28.3 13 29 10 29 C6 29 4 24 7 20 C10 17 12 13 16 13Z" fill="#3b7fe6"/><text x="16" y="27" font-size="10.5" font-weight="700" text-anchor="middle" fill="#fff" font-family="Liberation Sans, sans-serif">du</text></svg>
<span class="t" id="tab5" style="left:2330.5px;top:38.2px;font-size:24px;color:#54585d;transform:scaleX(1.0025);">mac 新建文件_百度搜索</span>
<svg class="b" style="left:2667.0px;top:41.5px;" width="18" height="18" viewBox="0 0 18 18"><path d="M1.5 1.5 L16.5 16.5 M16.5 1.5 L1.5 16.5" stroke="#45494d" stroke-width="3" fill="none"/></svg>
<div class="b" style="left:466.0px;top:31.0px;width:2.0px;height:39.0px;background:#878a8f;"></div>
<div class="b" style="left:1810.0px;top:31.0px;width:2.0px;height:39.0px;background:#878a8f;"></div>
<div class="b" style="left:2258.0px;top:31.0px;width:2.0px;height:39.0px;background:#878a8f;"></div>
<div class="b" style="left:2706.0px;top:31.0px;width:2.0px;height:39.0px;background:#878a8f;"></div>
<svg class="b" style="left:2740.0px;top:38.5px;" width="24" height="24" viewBox="0 0 24 24"><path d="M12 0.5 V23.5 M0.5 12 H23.5" stroke="#3c4043" stroke-width="3.6" fill="none"/></svg>
<div class="b" style="left:0.0px;top:84.0px;width:2880.0px;height:136.0px;background:#fff;"></div>
<svg class="b" style="left:30.0px;top:106.0px;" width="28" height="28" viewBox="0 0 28 28"><path d="M27 14 H3.5 M14 3 L3 14 L14 25" stroke="#5f6368" stroke-width="3.4" fill="none" stroke-linejoin="miter"/></svg>
<svg class="b" style="left:94.5px;top:106.0px;" width="28" height="28" viewBox="0 0 28 28"><path d="M1 14 H24.5 M14 3 L25 14 L14 25" stroke="#b8bbbf" stroke-width="3.4" fill="none"/></svg>
<svg class="b" style="left:158.0px;top:105.0px;" width="30" height="30" viewBox="0 0 30 30"><path d="M25.5 15 A10.7 10.7 0 1 1 22.3 7.3" stroke="#5f6368" stroke-width="3.4" fill="none"/><path d="M27.5 2 V12.5 H17Z" fill="#5f6368"/></svg>
<div class="b" style="left:216.0px;top:92.0px;width:2222.0px;height:56.0px;background:#f1f3f4;border-radius:28px;"></div>
<svg class="b" style="left:243.0px;top:109.0px;" width="18" height="23" viewBox="0 0 18 23"><rect x="0.5" y="9" width="17" height="13.5" rx="1.8" fill="#5f6368"/><path d="M4.3 10 V6.2 a4.7 4.7 0 0 1 9.4 0 V10" stroke="#5f6368" stroke-width="2.6" fill="none"/></svg>
<span class="t" id="url1" style="left:285.0px;top:106.3px;font-size:28px;color:#5f6368;transform:scaleX(1.0708);">https://</span>
<span class="t" id="url2" style="left:377.5px;top:106.3px;font-size:28px;color:#202124;transform:scaleX(1.0385);">console.huaweicloud.com</span>
<span class="t" id="url3" style="left:711.0px;top:106.3px;font-size:28px;color:#80868b;transform:scaleX(1.0704);">/dls/tensorboard/5d72f4f9035c4b6e937aa5efa483e83f/3063/#scalars&amp;_smoothingWeight=0.96</span>
<svg class="b" style="left:2320.0px;top:106.0px;" width="30" height="30" viewBox="0 0 30 30"><circle cx="11.5" cy="11.5" r="9.2" stroke="#5f6368" stroke-width="3" fill="none"/><path d="M18.5 18.5 L27 27" stroke="#5f6368" stroke-width="3.6"/><path d="M7 11.5 H16" stroke="#5f6368" stroke-width="2.6"/></svg>
<svg class="b" style="left:2387.5px;top:105.5px;" width="29" height="29" viewBox="0 0 32 32"><path d="M16 3.5 L19.7 12.3 L29 13 L21.9 19.2 L24.1 28.4 L16 23.4 L7.9 28.4 L10.1 19.2 L3 13 L12.3 12.3Z" stroke="#5f6368" stroke-width="3" fill="none" stroke-linejoin="miter"/></svg>
<svg class="b" style="left:2469.5px;top:104.0px;" width="33" height="32" viewBox="0 0 33 32"><path d="M9.7 0 H23.3 L33 9.4 V22.6 L23.3 32 H9.7 L0 22.6 V9.4Z" fill="#c8241b"/><text x="0" y="0" font-size="15" font-weight="700" text-anchor="middle" fill="#fff" font-family="Liberation Sans, sans-serif" transform="translate(16.5 21.8) scale(0.86 1.08)">ABP</text></svg>
<svg class="b" style="left:2534.0px;top:104.0px;" width="32" height="32" viewBox="0 0 32 32"><path d="M4 0 H10 L24 32 H18Z" fill="#5aa9e0"/><path d="M14 0 H20 L32 32 H26Z" fill="#2f6fb0"/><path d="M8 17 L12 24 L8 32 H0Z" fill="#1f2c3d"/></svg>
<svg class="b" style="left:2598.0px;top:104.0px;" width="33" height="32" viewBox="0 0 33 32"><rect x="15" y="7" width="18" height="25" rx="2" fill="#d4d6d9"/><path d="M2 0 H15 L23 25 H2 a2 2 0 0 1 -2 -2 V2 a2 2 0 0 1 2 -2Z" fill="#4a86e8"/><path d="M17 25 H23 L19 32Z" fill="#3367d6"/><text x="9.5" y="17.5" font-size="13" font-weight="700" text-anchor="middle" fill="#fff" font-family="Liberation Sans, sans-serif">G</text><text x="25.5" y="26" font-size="12" text-anchor="middle" fill="#5f6368" font-family="Liberation Sans, Noto Sans CJK SC, sans-serif">文</text></svg>
<svg class="b" style="left:2661.0px;top:104.0px;" width="34" height="33" viewBox="0 0 34 33"><circle cx="10.5" cy="10.5" r="8.6" fill="#d6e6f5" stroke="#7da7d8" stroke-width="2.4"/><path d="M16 17 L22 23" stroke="#7da7d8" stroke-width="3"/><path d="M13 27 C16 20 22 17 27 20 L33 28 L30 32 L22 30 L13 32Z" fill="#3f5178"/><path d="M28 24 L33 30" stroke="#8c4a3a" stroke-width="2.5"/></svg>
<div class="b" style="left:2726.0px;top:104.0px;width:2.0px;height:32.0px;background:#c6c9cd;"></div>
<svg class="b" style="left:2752.0px;top:99.5px;" width="40" height="40" viewBox="0 0 40 40"><circle cx="20" cy="20" r="20" fill="#d9dbde"/><circle cx="20" cy="21" r="12.5" fill="#f6c945"/><path d="M11.5 22 Q20 36 28.5 22Z" fill="#c8372e"/><path d="M14 24.5 H26 L25 26 H15Z" fill="#fff"/><circle cx="15.5" cy="16.5" r="3" fill="#fff"/><circle cx="24.5" cy="16.5" r="3" fill="#fff"/><circle cx="16.3" cy="15.8" r="1.2" fill="#333"/><circle cx="25.3" cy="15.8" r="1.2" fill="#333"/></svg>
<svg class="b" style="left:2832.0px;top:107.0px;" width="8" height="27" viewBox="0 0 8 27"><circle cx="4" cy="3.3" r="3" fill="#5f6368"/><circle cx="4" cy="13.3" r="3" fill="#5f6368"/><circle cx="4" cy="23.3" r="3" fill="#5f6368"/></svg>
<svg class="b" style="left:31.0px;top:170.5px;" width="26" height="26" viewBox="0 0 26 26"><rect x="0" y="0" width="6" height="6" fill="#db4437"/><rect x="10" y="0" width="6" height="6" fill="#db4437"/><rect x="20" y="0" width="6" height="6" fill="#db4437"/><rect x="0" y="10" width="6" height="6" fill="#0f9d58"/><rect x="10" y="10" width="6" height="6" fill="#4285f4"/><rect x="20" y="10" width="6" height="6" fill="#f4b400"/><rect x="0" y="20" width="6" height="6" fill="#0f9d58"/><rect x="10" y="20" width="6" height="6" fill="#f4b400"/><rect x="20" y="20" width="6" height="6" fill="#f4b400"/></svg>
<span class="t" id="bm_apps" style="left:77.0px;top:171.7px;font-size:24px;color:#5a5e63;transform:scaleX(1.0420);">Apps</span>
<svg class="b" style="left:167.0px;top:170.0px;" width="29" height="29" viewBox="0 0 24 24"><path d="M20.5 11H19V7c0-1.1-.9-2-2-2h-4V3.5C13 2.12 11.88 1 10.5 1S8 2.12 8 3.5V5H4c-1.1 0-1.99.9-1.99 2v3.8H3.5c1.49 0 2.7 1.21 2.7 2.7s-1.21 2.7-2.7 2.7H2V20c0 1.1.9 2 2 2h3.8v-1.5c0-1.49 1.21-2.7 2.7-2.7 1.49 0 2.7 1.21 2.7 2.7V22H17c1.1 0 2-.9 2-2v-4h1.5c1.38 0 2.5-1.12 2.5-2.5S21.88 11 20.5 11z" fill="#3b78e7"/></svg>
<span class="t" id="bm_ext" style="left:215.0px;top:171.7px;font-size:24px;color:#5a5e63;transform:scaleX(1.0221);">Extensions</span>
<svg class="b" style="left:370.0px;top:167.5px;" width="32" height="32" viewBox="0 0 16 16"><path d="M8 0C3.58 0 0 3.58 0 8c0 3.54 2.29 6.53 5.47 7.59.4.07.55-.17.55-.38 0-.19-.01-.82-.01-1.49-2.01.37-2.53-.49-2.69-.94-.09-.23-.48-.94-.82-1.13-.28-.15-.68-.52-.01-.53.63-.01 1.08.58 1.23.82.72 1.21 1.87.87 2.33.66.07-.52.28-.87.51-1.07-1.78-.2-3.64-.89-3.64-3.95 0-.87.31-1.59.82-2.15-.08-.2-.36-1.02.08-2.12 0 0 .67-.21 2.2.82.64-.18 1.32-.27 2-.27.68 0 1.36.09 2 .27 1.53-1.04 2.2-.82 2.2-.82.44 1.1.16 1.92.08 2.12.51.56.82 1.27.82 2.15 0 3.07-1.87 3.75-3.65 3.95.29.25.54.73.54 1.48 0 1.07-.01 1.93-.01 2.2 0 .21.15.46.55.38A8.013 8.013 0 0016 8c0-4.42-3.58-8-8-8z" fill="#111"/></svg>
<span class="t" id="bm_gh" style="left:419.0px;top:171.7px;font-size:24px;color:#5a5e63;transform:scaleX(1.0307);">GitHub</span>
<svg class="b" style="left:535.5px;top:169.5px;" width="22" height="29" viewBox="0 0 22 29"><path d="M1.5 1.5 H12.5 L20 9 V27 H1.5Z M12.5 1.5 V9 H20" fill="#fff" stroke="#2f3236" stroke-width="2"/></svg>
<span class="t" id="bm_tao" style="left:579.5px;top:171.7px;font-size:24px;color:#5a5e63;transform:scaleX(0.9818);">Tao</span>
<svg class="b" style="left:651.5px;top:171.5px;" width="33" height="26" viewBox="0 0 33 26"><path d="M1.5 4 a2 2 0 0 1 2 -2 H11 L14 5.5 H29.5 a2 2 0 0 1 2 2 V22.5 a2 2 0 0 1 -2 2 H3.5 a2 2 0 0 1 -2 -2Z" fill="#fff" stroke="#3f4246" stroke-width="1.8"/><path d="M2.4 9.5 H30.6 V22.3 a1.4 1.4 0 0 1 -1.4 1.4 H3.8 a1.4 1.4 0 0 1 -1.4 -1.4Z" fill="#c4c4c4" stroke="#3f4246" stroke-width="1.4"/></svg>
<span class="t" id="bm_dev" style="left:701.0px;top:171.7px;font-size:24px;color:#5a5e63;transform:scaleX(1.0348);">develop</span>
<svg class="b" style="left:821.5px;top:171.5px;" width="33" height="26" viewBox="0 0 33 26"><path d="M1.5 4 a2 2 0 0 1 2 -2 H11 L14 5.5 H29.5 a2 2 0 0 1 2 2 V22.5 a2 2 0 0 1 -2 2 H3.5 a2 2 0 0 1 -2 -2Z" fill="#fff" stroke="#3f4246" stroke-width="1.8"/><path d="M2.4 9.5 H30.6 V22.3 a1.4 1.4 0 0 1 -1.4 1.4 H3.8 a1.4 1.4 0 0 1 -1.4 -1.4Z" fill="#c4c4c4" stroke="#3f4246" stroke-width="1.4"/></svg>
<span class="t" id="bm_oth" style="left:871.0px;top:171.7px;font-size:24px;color:#5a5e63;transform:scaleX(1.0694);">other</span>
<svg class="b" style="left:961.5px;top:171.5px;" width="33" height="26" viewBox="0 0 33 26"><path d="M1.5 4 a2 2 0 0 1 2 -2 H11 L14 5.5 H29.5 a2 2 0 0 1 2 2 V22.5 a2 2 0 0 1 -2 2 H3.5 a2 2 0 0 1 -2 -2Z" fill="#fff" stroke="#3f4246" stroke-width="1.8"/><path d="M2.4 9.5 H30.6 V22.3 a1.4 1.4 0 0 1 -1.4 1.4 H3.8 a1.4 1.4 0 0 1 -1.4 -1.4Z" fill="#c4c4c4" stroke="#3f4246" stroke-width="1.4"/></svg>
<span class="t" id="bm_ml" style="left:1011.0px;top:171.7px;font-size:24px;color:#5a5e63;transform:scaleX(0.9673);">ml</span>
<svg class="b" style="left:1069.5px;top:171.5px;" width="33" height="26" viewBox="0 0 33 26"><path d="M1.5 4 a2 2 0 0 1 2 -2 H11 L14 5.5 H29.5 a2 2 0 0 1 2 2 V22.5 a2 2 0 0 1 -2 2 H3.5 a2 2 0 0 1 -2 -2Z" fill="#fff" stroke="#3f4246" stroke-width="1.8"/><path d="M2.4 9.5 H30.6 V22.3 a1.4 1.4 0 0 1 -1.4 1.4 H3.8 a1.4 1.4 0 0 1 -1.4 -1.4Z" fill="#c4c4c4" stroke="#3f4246" stroke-width="1.4"/></svg>
<span class="t" id="bm_tr" style="left:1119.0px;top:171.7px;font-size:24px;color:#5a5e63;transform:scaleX(1.0849);">to-read</span>
<svg class="b" style="left:1236.0px;top:168.5px;" width="32" height="32" viewBox="0 0 32 32"><defs><linearGradient id="yy" x1="0" y1="0" x2="0" y2="1"><stop offset="0" stop-color="#8fd0ef"/><stop offset="1" stop-color="#2f93d8"/></linearGradient></defs><rect width="32" height="32" fill="url(#yy)"/><path d="M2 0 L16 17 L30 0 H24 L16 9 L8 0Z" fill="#fff" opacity=".85"/><path d="M0 26 L12 14 L16 18 L4 32 H0Z" fill="#fff" opacity=".8"/><path d="M32 24 L22 14 L18 18 L30 32 H32Z" fill="#2a86cf" opacity=".7"/></svg>
<span class="t" id="bm_yy" style="left:1285.5px;top:171.7px;font-size:24px;color:#5a5e63;transform:scaleX(0.9996);">YYeTs 人人影视|字...</span>
<svg class="b" style="left:1544.0px;top:168.0px;" width="32" height="34" viewBox="0 0 32 34"><path d="M0 8.5 L14 1 V9 L0 16.5Z" fill="#f6a021"/><path d="M14 1 L30 9 V16.5 L21.5 12 V19 L26 21.2 V27.5 L21.5 25.5 V31 L14 34.5 V9Z" fill="#f17b16"/><path d="M7.5 12.5 L14 9 V34.5 L7.5 31Z" fill="#fbbf3a"/></svg>
<span class="t" id="bm_tf" style="left:1594.0px;top:171.7px;font-size:24px;color:#5a5e63;transform:scaleX(1.0153);">TensorFlow中文社...</span>
<svg class="b" style="left:1852.0px;top:168.5px;" width="32" height="32" viewBox="0 0 32 32"><rect width="32" height="32" fill="#141b3a"/><path d="M5 25 V10 L10 7 L16 13 L22 7 L27 10 V25 L22 27.5 V14 L16 20 L10 14 V27.5Z" fill="none" stroke="#4fb3c8" stroke-width="1.7"/><path d="M22 27.5 L27 25 V10" fill="none" stroke="#d04a7a" stroke-width="1.7"/></svg>
<span class="t" id="bm_ps" style="left:1900.5px;top:171.7px;font-size:24px;color:#5a5e63;transform:scaleX(1.0325);">Piano Scribe</span>
<svg class="b" style="left:2073.5px;top:169.0px;" width="33" height="30" viewBox="0 0 33 30"><path d="M8.5 0.5 H24.5 L32.5 15 L24.5 29.5 H8.5 L0.5 15Z" fill="#4b83e6"/><path d="M11.5 12 H21.5 M11.5 17.5 H21.5" stroke="#fff" stroke-width="2.6"/></svg>
<span class="t" id="bm_pn" style="left:2122.0px;top:171.7px;font-size:24px;color:#5a5e63;transform:scaleX(1.0331);">PoseNet - Camera...</span>
<svg class="b" style="left:2383.5px;top:168.0px;" width="32" height="33" viewBox="0 0 32 33"><path d="M16 30 V6" stroke="#3b7db8" stroke-width="2.4"/><path d="M16 20 L7 13" stroke="#4a90c8" stroke-width="2"/><path d="M16 20 L25 13" stroke="#4a90c8" stroke-width="2"/><path d="M16 14 L9 6" stroke="#4a90c8" stroke-width="2"/><path d="M16 14 L23 6" stroke="#4a90c8" stroke-width="2"/><path d="M16 24 L5 21" stroke="#4a90c8" stroke-width="2"/><path d="M16 24 L27 21" stroke="#4a90c8" stroke-width="2"/><path d="M7 13 L3 14" stroke="#4a90c8" stroke-width="2"/><path d="M25 13 L29 14" stroke="#4a90c8" stroke-width="2"/><path d="M9 6 L6 3" stroke="#4a90c8" stroke-width="2"/><path d="M23 6 L26 3" stroke="#4a90c8" stroke-width="2"/><circle cx="7" cy="13" r="2.3" fill="#5aa0d6"/><circle cx="25" cy="13" r="2.3" fill="#5aa0d6"/><circle cx="9" cy="6" r="2.3" fill="#5aa0d6"/><circle cx="23" cy="6" r="2.3" fill="#5aa0d6"/><circle cx="5" cy="21" r="2.3" fill="#5aa0d6"/><circle cx="27" cy="21" r="2.3" fill="#5aa0d6"/><circle cx="16" cy="4" r="2.3" fill="#5aa0d6"/><circle cx="3" cy="14" r="2.3" fill="#5aa0d6"/><circle cx="29" cy="14" r="2.3" fill="#5aa0d6"/><circle cx="12" cy="10" r="2.3" fill="#5aa0d6"/><circle cx="20" cy="10" r="2.3" fill="#5aa0d6"/><path d="M9 31 H23" stroke="#3b7db8" stroke-width="1.6"/></svg>
<span class="t" id="bm_cf" style="left:2430.0px;top:171.7px;font-size:24px;color:#5a5e63;transform:scaleX(1.0105);">CIFAR-10 and CIF...</span>
<svg class="b" style="left:2826.0px;top:176.0px;" width="16" height="16" viewBox="0 0 16 16"><path d="M1.5 2 L7 8 L1.5 14 M8.5 2 L14 8 L8.5 14" stroke="#3c4043" stroke-width="2.6" fill="none"/></svg>
<div class="b" style="left:721.7px;top:1702.0px;width:848.0px;height:110.0px;background:rgba(0,0,0,.8);border-radius:8px;"></div>
<span class="t" id="tt_name" style="left:801.7px;top:1725.8px;font-size:23.4px;color:#fff;font-weight:700;transform:scaleX(0.9730);">Name</span>
<span class="t" id="tt_sm" style="left:889.7px;top:1725.8px;font-size:23.4px;color:#fff;font-weight:700;transform:scaleX(1.0143);">Smoothed</span>
<span class="t" id="tt_val" style="left:1027.3px;top:1725.8px;font-size:23.4px;color:#fff;font-weight:700;transform:scaleX(1.0389);">Value</span>
<span class="t" id="tt_step" style="left:1119.0px;top:1725.8px;font-size:23.4px;color:#fff;font-weight:700;transform:scaleX(1.0160);">Step</span>
<span class="t" id="tt_time" style="left:1212.0px;top:1725.8px;font-size:23.4px;color:#fff;font-weight:700;transform:scaleX(1.0614);">Time</span>
<span class="t" id="tt_rel" style="left:1453.6px;top:1725.8px;font-size:23.4px;color:#fff;font-weight:700;transform:scaleX(1.0143);">Relative</span>
<svg class="b" style="left:748.0px;top:1756.0px;" width="32" height="32" viewBox="0 0 32 32"><circle cx="16" cy="16" r="15.8" fill="#fff"/><circle cx="16" cy="16" r="11.4" fill="#ee7148"/></svg>
<span class="t" id="tv_name" style="left:801.7px;top:1760.2px;font-size:23.4px;color:#fff;">.</span>
<span class="t" id="tv_sm" style="left:889.7px;top:1760.2px;font-size:23.4px;color:#fff;transform:scaleX(0.9993);">0.2610</span>
<span class="t" id="tv_val" style="left:1027.3px;top:1760.2px;font-size:23.4px;color:#fff;transform:scaleX(0.9993);">0.1702</span>
<span class="t" id="tv_step" style="left:1119.0px;top:1760.2px;font-size:23.4px;color:#fff;transform:scaleX(1.0038);">39.35k</span>
<span class="t" id="tv_time" style="left:1212.0px;top:1760.2px;font-size:23.4px;color:#fff;transform:scaleX(0.9739);">Wed Oct 10, 11:10:36</span>
<span class="t" id="tv_rel" style="left:1453.6px;top:1760.2px;font-size:23.4px;color:#fff;transform:scaleX(1.0047);">8m 5s</span>
</body></html>
